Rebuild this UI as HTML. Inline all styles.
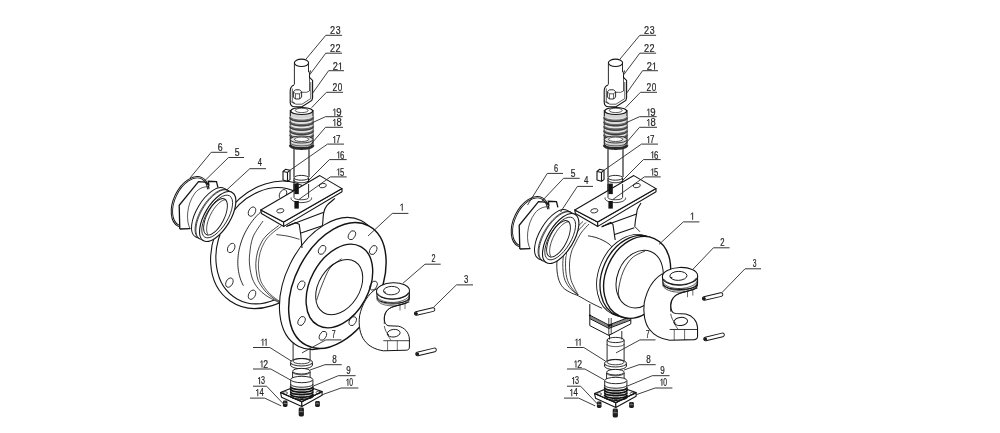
<!DOCTYPE html>
<html><head><meta charset="utf-8"><style>
html,body{margin:0;padding:0;background:#fff;}
svg{display:block;}
svg{will-change:transform;}
text{font-family:"Liberation Sans",sans-serif;}
</style></head><body>
<svg width="1000" height="433" viewBox="0 0 1000 433">
<rect width="1000" height="433" fill="#fff"/>
<path d="M293.1,330 L293.1,360 M310.1,330 L310.1,360" fill="none" stroke="#141414" stroke-width="0.9" />
<ellipse cx="301.5" cy="365" rx="11" ry="3.8" fill="white" stroke="#141414" stroke-width="0.9"/>
<path d="M290.5,362.5 L290.5,365 M312.5,362.5 L312.5,365" fill="none" stroke="#141414" stroke-width="0.8" />
<ellipse cx="301.5" cy="362.2" rx="11" ry="3.8" fill="white" stroke="#141414" stroke-width="0.9"/>
<ellipse cx="301.5" cy="361.2" rx="8.5" ry="2.6" fill="none" stroke="#141414" stroke-width="0.8"/>
<path d="M292.6,372 L292.6,378 M310.1,372 L310.1,378" fill="none" stroke="#141414" stroke-width="0.9" />
<path d="M310.20,372.00 L310.17,372.22 L310.09,372.44 L309.96,372.65 L309.77,372.87 L309.53,373.07 L309.24,373.27 L308.90,373.46 L308.52,373.65 L308.09,373.82 L307.62,373.98 L307.12,374.13 L306.57,374.27 L306.00,374.39 L305.40,374.49 L304.77,374.59 L304.12,374.66 L303.45,374.72 L302.78,374.77 L302.09,374.79 L301.40,374.80 L300.71,374.79 L300.02,374.77 L299.35,374.72 L298.68,374.66 L298.03,374.59 L297.40,374.49 L296.80,374.39 L296.23,374.27 L295.68,374.13 L295.18,373.98 L294.71,373.82 L294.28,373.65 L293.90,373.46 L293.56,373.27 L293.27,373.07 L293.03,372.87 L292.84,372.65 L292.71,372.44 L292.63,372.22 L292.60,372.00" fill="none" stroke="#141414" stroke-width="0.8" />
<ellipse cx="301.4" cy="371.2" rx="8.8" ry="2.8" fill="white" stroke="#141414" stroke-width="0.9"/>
<polygon points="280.5,392.5 301.8,401.8 301.8,406.4 281.5,397.2" fill="white" stroke="#141414" stroke-width="1.1" stroke-linejoin="round"/>
<polygon points="301.8,401.8 322.1,391.6 322.1,395.3 301.8,406.4" fill="white" stroke="#141414" stroke-width="1.1" stroke-linejoin="round"/>
<polygon points="280.5,392.5 300.9,384.2 322.1,391.6 301.8,401.8" fill="none" stroke="#141414" stroke-width="1.1" stroke-linejoin="round"/>
<ellipse cx="285.2" cy="393" rx="2.3" ry="1.3" fill="none" stroke="#141414" stroke-width="0.7"/>
<ellipse cx="318.4" cy="392.5" rx="2.3" ry="1.3" fill="none" stroke="#141414" stroke-width="0.7"/>
<ellipse cx="301.8" cy="399.8" rx="2.3" ry="1.3" fill="none" stroke="#141414" stroke-width="0.7"/>
<rect x="282.90" y="400.60" width="4.6" height="6.4" rx="1.4" fill="#1e1e1e"/>
<path d="M283.50,403.50 L286.90,403.50" stroke="#bbb" stroke-width="0.6"/>
<path d="M284.90,401.10 L284.90,402.80" stroke="#888" stroke-width="0.5"/>
<rect x="298.70" y="407.60" width="5.2" height="8.8" rx="1.4" fill="#1e1e1e"/>
<path d="M299.30,411.70 L303.30,411.70" stroke="#bbb" stroke-width="0.6"/>
<path d="M301.00,408.10 L301.00,411.00" stroke="#888" stroke-width="0.5"/>
<rect x="315.10" y="401.00" width="4.8" height="6" rx="1.4" fill="#1e1e1e"/>
<path d="M315.70,403.70 L319.30,403.70" stroke="#bbb" stroke-width="0.6"/>
<path d="M317.20,401.50 L317.20,403.00" stroke="#888" stroke-width="0.5"/>
<path d="M290.7,380 L290.7,394 L312.9,394 L312.9,380" fill="white" stroke="#141414" stroke-width="0.9" />
<ellipse cx="301.8" cy="379.5" rx="11.1" ry="3.2" fill="white" stroke="#141414" stroke-width="0.9"/>
<path d="M313.00,384.00 L312.97,384.25 L312.86,384.50 L312.69,384.75 L312.45,384.99 L312.15,385.22 L311.78,385.45 L311.35,385.67 L310.86,385.88 L310.32,386.08 L309.72,386.26 L309.07,386.43 L308.38,386.59 L307.65,386.73 L306.88,386.85 L306.09,386.96 L305.26,387.04 L304.41,387.11 L303.55,387.16 L302.68,387.19 L301.80,387.20 L300.92,387.19 L300.05,387.16 L299.19,387.11 L298.34,387.04 L297.51,386.96 L296.72,386.85 L295.95,386.73 L295.22,386.59 L294.53,386.43 L293.88,386.26 L293.28,386.08 L292.74,385.88 L292.25,385.67 L291.82,385.45 L291.45,385.22 L291.15,384.99 L290.91,384.75 L290.74,384.50 L290.63,384.25 L290.60,384.00" fill="none" stroke="#141414" stroke-width="1.0" />
<path d="M313.00,386.50 L312.97,386.75 L312.86,387.00 L312.69,387.25 L312.45,387.49 L312.15,387.72 L311.78,387.95 L311.35,388.17 L310.86,388.38 L310.32,388.58 L309.72,388.76 L309.07,388.93 L308.38,389.09 L307.65,389.23 L306.88,389.35 L306.09,389.46 L305.26,389.54 L304.41,389.61 L303.55,389.66 L302.68,389.69 L301.80,389.70 L300.92,389.69 L300.05,389.66 L299.19,389.61 L298.34,389.54 L297.51,389.46 L296.72,389.35 L295.95,389.23 L295.22,389.09 L294.53,388.93 L293.88,388.76 L293.28,388.58 L292.74,388.38 L292.25,388.17 L291.82,387.95 L291.45,387.72 L291.15,387.49 L290.91,387.25 L290.74,387.00 L290.63,386.75 L290.60,386.50" fill="none" stroke="#141414" stroke-width="1.8" />
<path d="M313.00,389.00 L312.97,389.25 L312.86,389.50 L312.69,389.75 L312.45,389.99 L312.15,390.22 L311.78,390.45 L311.35,390.67 L310.86,390.88 L310.32,391.08 L309.72,391.26 L309.07,391.43 L308.38,391.59 L307.65,391.73 L306.88,391.85 L306.09,391.96 L305.26,392.04 L304.41,392.11 L303.55,392.16 L302.68,392.19 L301.80,392.20 L300.92,392.19 L300.05,392.16 L299.19,392.11 L298.34,392.04 L297.51,391.96 L296.72,391.85 L295.95,391.73 L295.22,391.59 L294.53,391.43 L293.88,391.26 L293.28,391.08 L292.74,390.88 L292.25,390.67 L291.82,390.45 L291.45,390.22 L291.15,389.99 L290.91,389.75 L290.74,389.50 L290.63,389.25 L290.60,389.00" fill="none" stroke="#141414" stroke-width="1.8" />
<path d="M313.00,391.50 L312.97,391.75 L312.86,392.00 L312.69,392.25 L312.45,392.49 L312.15,392.72 L311.78,392.95 L311.35,393.17 L310.86,393.38 L310.32,393.58 L309.72,393.76 L309.07,393.93 L308.38,394.09 L307.65,394.23 L306.88,394.35 L306.09,394.46 L305.26,394.54 L304.41,394.61 L303.55,394.66 L302.68,394.69 L301.80,394.70 L300.92,394.69 L300.05,394.66 L299.19,394.61 L298.34,394.54 L297.51,394.46 L296.72,394.35 L295.95,394.23 L295.22,394.09 L294.53,393.93 L293.88,393.76 L293.28,393.58 L292.74,393.38 L292.25,393.17 L291.82,392.95 L291.45,392.72 L291.15,392.49 L290.91,392.25 L290.74,392.00 L290.63,391.75 L290.60,391.50" fill="none" stroke="#141414" stroke-width="1.6" />
<path d="M313.00,394.00 L312.97,394.25 L312.86,394.50 L312.69,394.75 L312.45,394.99 L312.15,395.22 L311.78,395.45 L311.35,395.67 L310.86,395.88 L310.32,396.08 L309.72,396.26 L309.07,396.43 L308.38,396.59 L307.65,396.73 L306.88,396.85 L306.09,396.96 L305.26,397.04 L304.41,397.11 L303.55,397.16 L302.68,397.19 L301.80,397.20 L300.92,397.19 L300.05,397.16 L299.19,397.11 L298.34,397.04 L297.51,396.96 L296.72,396.85 L295.95,396.73 L295.22,396.59 L294.53,396.43 L293.88,396.26 L293.28,396.08 L292.74,395.88 L292.25,395.67 L291.82,395.45 L291.45,395.22 L291.15,394.99 L290.91,394.75 L290.74,394.50 L290.63,394.25 L290.60,394.00" fill="none" stroke="#141414" stroke-width="1.8" />
<path d="M313.00,396.00 L312.97,396.25 L312.86,396.50 L312.69,396.75 L312.45,396.99 L312.15,397.22 L311.78,397.45 L311.35,397.67 L310.86,397.88 L310.32,398.08 L309.72,398.26 L309.07,398.43 L308.38,398.59 L307.65,398.73 L306.88,398.85 L306.09,398.96 L305.26,399.04 L304.41,399.11 L303.55,399.16 L302.68,399.19 L301.80,399.20 L300.92,399.19 L300.05,399.16 L299.19,399.11 L298.34,399.04 L297.51,398.96 L296.72,398.85 L295.95,398.73 L295.22,398.59 L294.53,398.43 L293.88,398.26 L293.28,398.08 L292.74,397.88 L292.25,397.67 L291.82,397.45 L291.45,397.22 L291.15,396.99 L290.91,396.75 L290.74,396.50 L290.63,396.25 L290.60,396.00" fill="none" stroke="#141414" stroke-width="1.4" />
<ellipse cx="268.7" cy="244.8" rx="52.7" ry="68.2" transform="rotate(34.4 268.7 244.8)" fill="white" stroke="#141414" stroke-width="1.1"/>
<ellipse cx="266.9" cy="245.7" rx="47.4" ry="61" transform="rotate(29.3 266.9 245.7)" fill="white" stroke="#141414" stroke-width="1.1"/>
<ellipse cx="252" cy="211.6" rx="3.3" ry="5" transform="rotate(29 252 211.6)" fill="none" stroke="#141414" stroke-width="0.8"/>
<ellipse cx="231.2" cy="248" rx="3.3" ry="5" transform="rotate(29 231.2 248)" fill="none" stroke="#141414" stroke-width="0.8"/>
<ellipse cx="229.4" cy="282.6" rx="3.3" ry="5" transform="rotate(29 229.4 282.6)" fill="none" stroke="#141414" stroke-width="0.8"/>
<ellipse cx="252" cy="294.7" rx="3.3" ry="5" transform="rotate(29 252 294.7)" fill="none" stroke="#141414" stroke-width="0.8"/>
<ellipse cx="283" cy="194.2" rx="3.3" ry="5" transform="rotate(29 283 194.2)" fill="none" stroke="#141414" stroke-width="0.8"/>
<path d="M243.37,285.68 L242.54,284.07 L241.78,282.41 L241.07,280.71 L240.44,278.96 L239.87,277.17 L239.37,275.34 L238.94,273.47 L238.57,271.57 L238.28,269.64 L238.05,267.68 L237.90,265.69 L237.82,263.69 L237.81,261.66 L237.87,259.62 L238.00,257.56 L238.20,255.50 L238.47,253.43 L238.81,251.35 L239.22,249.27 L239.70,247.20 L240.24,245.13 L240.86,243.07 L241.54,241.03 L242.28,238.99 L243.09,236.98 L243.96,234.99 L244.90,233.02 L245.89,231.08 L246.94,229.17 L248.05,227.29 L249.22,225.44 L250.44,223.64 L251.71,221.88 L253.03,220.16 L254.40,218.49 L255.81,216.86 L257.27,215.29 L258.77,213.77 L260.31,212.31 L261.88,210.91" fill="none" stroke="#141414" stroke-width="0.9" />
<path d="M263.00,221.00 C261.33,223.67 255.22,231.53 253.00,237.00 C250.78,242.47 250.25,248.97 249.70,253.80 C249.15,258.63 249.23,261.80 249.70,266.00 C250.17,270.20 251.08,275.25 252.50,279.00 C253.92,282.75 255.95,285.75 258.20,288.50 C260.45,291.25 262.97,293.38 266.00,295.50 C269.03,297.62 273.90,299.78 276.40,301.20 C278.90,302.62 280.23,303.53 281.00,304.00 L300,312 L330,280 L352,228 L350,196 L327,197 L300,204 L275,211 Z" fill="white" stroke="#141414" stroke-width="0" />
<path d="M263.00,221.00 C261.33,223.67 255.22,231.53 253.00,237.00 C250.78,242.47 250.25,248.97 249.70,253.80 C249.15,258.63 249.23,261.80 249.70,266.00 C250.17,270.20 251.08,275.25 252.50,279.00 C253.92,282.75 255.95,285.75 258.20,288.50 C260.45,291.25 262.97,293.38 266.00,295.50 C269.03,297.62 273.90,299.78 276.40,301.20 C278.90,302.62 280.23,303.53 281.00,304.00" fill="none" stroke="#141414" stroke-width="0.8" />
<path d="M278.80,225.50 C277.00,226.92 270.83,231.30 268.00,234.00 C265.17,236.70 263.55,238.70 261.80,241.70 C260.05,244.70 258.50,248.37 257.50,252.00 C256.50,255.63 255.97,260.00 255.80,263.50 C255.63,267.00 256.10,270.17 256.50,273.00 C256.90,275.83 257.28,278.17 258.20,280.50 C259.12,282.83 260.58,284.97 262.00,287.00 C263.42,289.03 264.87,290.87 266.70,292.70 C268.53,294.53 270.78,296.38 273.00,298.00 C275.22,299.62 278.83,301.67 280.00,302.40" fill="none" stroke="#141414" stroke-width="0.8" />
<path d="M281.40,226.10 C279.60,227.52 273.43,231.90 270.60,234.60 C267.77,237.30 266.15,239.30 264.40,242.30 C262.65,245.30 261.10,248.97 260.10,252.60 C259.10,256.23 258.57,260.60 258.40,264.10 C258.23,267.60 258.70,270.77 259.10,273.60 C259.50,276.43 259.88,278.77 260.80,281.10 C261.72,283.43 263.18,285.57 264.60,287.60 C266.02,289.63 267.47,291.47 269.30,293.30 C271.13,295.13 273.38,296.98 275.60,298.60 C277.82,300.22 281.43,302.27 282.60,303.00" fill="none" stroke="#141414" stroke-width="0.7" />
<path d="M276.40,234.60 C278.33,234.87 284.15,235.42 288.00,236.20 C291.85,236.98 297.58,238.78 299.50,239.30" fill="none" stroke="#141414" stroke-width="0.8" />
<ellipse cx="329.9" cy="283.5" rx="44.3" ry="70.2" transform="rotate(26.3 329.9 283.5)" fill="white" stroke="#141414" stroke-width="1.1"/>
<ellipse cx="337.4" cy="285.5" rx="42.2" ry="67.4" transform="rotate(27.6 337.4 285.5)" fill="white" stroke="#141414" stroke-width="1.45"/>
<ellipse cx="351.91" cy="235.22" rx="3.2" ry="4.8" transform="rotate(27.6 351.91 235.22)" fill="none" stroke="#141414" stroke-width="0.8"/>
<ellipse cx="373.24" cy="250.02" rx="3.2" ry="4.8" transform="rotate(27.6 373.24 250.02)" fill="none" stroke="#141414" stroke-width="0.8"/>
<ellipse cx="373.57" cy="285.61" rx="3.2" ry="4.8" transform="rotate(27.6 373.57 285.61)" fill="none" stroke="#141414" stroke-width="0.8"/>
<ellipse cx="352.72" cy="321.13" rx="3.2" ry="4.8" transform="rotate(27.6 352.72 321.13)" fill="none" stroke="#141414" stroke-width="0.8"/>
<ellipse cx="322.89" cy="335.78" rx="3.2" ry="4.8" transform="rotate(27.6 322.89 335.78)" fill="none" stroke="#141414" stroke-width="0.8"/>
<ellipse cx="301.56" cy="320.98" rx="3.2" ry="4.8" transform="rotate(27.6 301.56 320.98)" fill="none" stroke="#141414" stroke-width="0.8"/>
<ellipse cx="301.23" cy="285.39" rx="3.2" ry="4.8" transform="rotate(27.6 301.23 285.39)" fill="none" stroke="#141414" stroke-width="0.8"/>
<ellipse cx="322.08" cy="249.87" rx="3.2" ry="4.8" transform="rotate(27.6 322.08 249.87)" fill="none" stroke="#141414" stroke-width="0.8"/>
<ellipse cx="339.4" cy="286" rx="29.1" ry="44.8" transform="rotate(28.4 339.4 286)" fill="none" stroke="#141414" stroke-width="1.4"/>
<ellipse cx="339.2" cy="287.1" rx="20.4" ry="30" transform="rotate(32.3 339.2 287.1)" fill="none" stroke="#141414" stroke-width="1.0"/>
<path d="M341.60,258.70 C339.67,260.25 333.27,263.62 330.00,268.00 C326.73,272.38 324.23,279.62 322.00,285.00 C319.77,290.38 317.50,297.75 316.60,300.30" fill="none" stroke="#141414" stroke-width="0.8" />
<path d="M335.00,198.30 C333.63,199.52 328.68,203.17 326.80,205.60 C324.92,208.03 324.40,209.78 323.70,212.90 C323.00,216.02 322.95,222.13 322.60,224.30 C322.25,226.47 321.77,225.63 321.60,225.90" fill="none" stroke="#141414" stroke-width="1.1" />
<path d="M287.3,225.9 L295.6,222.7 L299.2,224.3 L300.8,235 L302,248" fill="none" stroke="#141414" stroke-width="1.1" />
<path d="M286.2,226.4 L323.7,212.3" fill="none" stroke="#141414" stroke-width="1.1" />
<path d="M321.6,225.9 L301,233" fill="none" stroke="#141414" stroke-width="1.1" />
<ellipse cx="190.2" cy="202" rx="16.5" ry="27.1" transform="rotate(26 190.2 202)" fill="none" stroke="#141414" stroke-width="1.0"/>
<ellipse cx="190.2" cy="202" rx="15.1" ry="25.7" transform="rotate(26 190.2 202)" fill="none" stroke="#141414" stroke-width="0.9"/>
<path d="M179.8,229 L179.2,205.3 L190,193 L204,189.5 L214,189 L220,192 L226,200 L226,236 L190.2,228.6 Z" fill="white" stroke="#141414" stroke-width="0" />
<path d="M190.3,229 C186,222 186,205 195,193 C199,188 205,186 209.5,187" fill="none" stroke="#141414" stroke-width="0.7" />
<path d="M179.8,229 L179.2,205.3 L198.5,181.7 L205.3,182.2 L208.8,184.6 L208.3,181.3 L216.5,181.7 L217.9,187.3" fill="none" stroke="#141414" stroke-width="1.3" />
<path d="M179.8,229 L190.2,228.6" fill="none" stroke="#141414" stroke-width="1.3" />
<ellipse cx="209.7" cy="212.5" rx="12.8" ry="28.1" transform="rotate(31.1 209.7 212.5)" fill="white" stroke="#141414" stroke-width="1.0"/>
<path d="M224.21,188.44 L232.21,192.44 L203.19,240.56 L195.19,236.56 Z" fill="white" stroke="#141414" stroke-width="0" />
<path d="M224.21,188.44 L232.21,192.44 M203.19,240.56 L195.19,236.56" fill="none" stroke="#141414" stroke-width="0.9" />
<path d="M198.79,238.36 L197.97,237.77 L197.25,237.03 L196.63,236.15 L196.11,235.14 L195.70,234.00 L195.39,232.74 L195.20,231.36 L195.12,229.88 L195.14,228.30 L195.29,226.64 L195.54,224.90 L195.90,223.09 L196.37,221.23 L196.94,219.33 L197.62,217.40 L198.39,215.45 L199.25,213.49 L200.20,211.53 L201.23,209.60 L202.34,207.69 L203.51,205.82 L204.75,204.01 L206.03,202.25 L207.36,200.58 L208.73,198.98 L210.12,197.49 L211.54,196.09 L212.96,194.81 L214.39,193.65 L215.81,192.61 L217.22,191.71 L218.60,190.95 L219.95,190.33 L221.26,189.86 L222.52,189.54 L223.72,189.37 L224.85,189.36 L225.92,189.50 L226.91,189.79 L227.81,190.24" fill="none" stroke="#141414" stroke-width="0.8" />
<path d="M199.59,238.76 L198.77,238.17 L198.05,237.43 L197.43,236.55 L196.91,235.54 L196.50,234.40 L196.19,233.14 L196.00,231.76 L195.92,230.28 L195.94,228.70 L196.09,227.04 L196.34,225.30 L196.70,223.49 L197.17,221.63 L197.74,219.73 L198.42,217.80 L199.19,215.85 L200.05,213.89 L201.00,211.93 L202.03,210.00 L203.14,208.09 L204.31,206.22 L205.55,204.41 L206.83,202.65 L208.16,200.98 L209.53,199.38 L210.92,197.89 L212.34,196.49 L213.76,195.21 L215.19,194.05 L216.61,193.01 L218.02,192.11 L219.40,191.35 L220.75,190.73 L222.06,190.26 L223.32,189.94 L224.52,189.77 L225.65,189.76 L226.72,189.90 L227.71,190.19 L228.61,190.64" fill="none" stroke="#141414" stroke-width="0.8" />
<ellipse cx="217.7" cy="216.5" rx="12.8" ry="28.1" transform="rotate(31.1 217.7 216.5)" fill="white" stroke="#141414" stroke-width="1.1"/>
<ellipse cx="217.2" cy="216.5" rx="10.600000000000001" ry="24.1" transform="rotate(31.1 217.2 216.5)" fill="none" stroke="#141414" stroke-width="0.8"/>
<ellipse cx="215.5" cy="216.8" rx="8.6" ry="20" transform="rotate(27 215.5 216.8)" fill="none" stroke="#141414" stroke-width="0.9"/>
<path d="M208.23,234.87 L207.84,234.35 L207.50,233.74 L207.21,233.06 L206.98,232.31 L206.81,231.48 L206.69,230.59 L206.63,229.64 L206.63,228.63 L206.68,227.57 L206.79,226.46 L206.96,225.32 L207.19,224.13 L207.47,222.92 L207.81,221.68 L208.19,220.43 L208.63,219.16 L209.12,217.89 L209.65,216.61 L210.22,215.35 L210.84,214.10 L211.49,212.86 L212.18,211.65 L212.89,210.48 L213.64,209.34 L214.40,208.24 L215.19,207.19 L216.00,206.19 L216.81,205.25 L217.64,204.37 L218.47,203.55 L219.30,202.81 L220.12,202.14 L220.94,201.55 L221.74,201.04 L222.53,200.62 L223.30,200.27 L224.05,200.01 L224.77,199.85 L225.46,199.76 L226.11,199.77" fill="none" stroke="#141414" stroke-width="0.8" />
<path d="M294,146 L294,177 M309,146 L309,177" fill="none" stroke="#141414" stroke-width="1.1" />
<path d="M294,178 L294,200 M308.6,178 L308.6,200" fill="none" stroke="#141414" stroke-width="1.1" />
<ellipse cx="301.3" cy="177.8" rx="7.3" ry="2.4" fill="white" stroke="#141414" stroke-width="0.9"/>
<path d="M308.60,180.30 L308.58,180.49 L308.51,180.68 L308.40,180.86 L308.24,181.04 L308.04,181.22 L307.80,181.39 L307.52,181.55 L307.21,181.71 L306.85,181.86 L306.46,182.00 L306.04,182.12 L305.59,182.24 L305.11,182.35 L304.61,182.44 L304.09,182.52 L303.56,182.58 L303.00,182.63 L302.44,182.67 L301.87,182.69 L301.30,182.70 L300.73,182.69 L300.16,182.67 L299.60,182.63 L299.04,182.58 L298.51,182.52 L297.99,182.44 L297.49,182.35 L297.01,182.24 L296.56,182.12 L296.14,182.00 L295.75,181.86 L295.39,181.71 L295.08,181.55 L294.80,181.39 L294.56,181.22 L294.36,181.04 L294.20,180.86 L294.09,180.68 L294.02,180.49 L294.00,180.30" fill="none" stroke="#141414" stroke-width="1.0" />
<polygon points="283,171.5 285.5,169.3 290,170.2 290,179.6 287.5,181.2 283,180" fill="white" stroke="#141414" stroke-width="1.1" stroke-linejoin="round"/>
<path d="M283,171.5 L287.5,172.5 L290,170.2 M287.5,172.5 L287.5,181.2" fill="none" stroke="#141414" stroke-width="1.1" />
<polygon points="290.3,110 313,110 313,147 290.3,147" fill="#d4d4d4" stroke="#141414" stroke-width="0" stroke-linejoin="round"/>
<path d="M290.3,110 L290.3,146 M313,110 L313,146" fill="none" stroke="#141414" stroke-width="1.1" />
<path d="M312.95,117.20 L312.92,117.47 L312.81,117.73 L312.64,117.99 L312.39,118.25 L312.09,118.50 L311.71,118.74 L311.28,118.98 L310.78,119.20 L310.23,119.41 L309.63,119.60 L308.97,119.79 L308.27,119.95 L307.53,120.10 L306.75,120.23 L305.94,120.34 L305.11,120.43 L304.25,120.51 L303.38,120.56 L302.49,120.59 L301.60,120.60 L300.71,120.59 L299.82,120.56 L298.95,120.51 L298.09,120.43 L297.26,120.34 L296.45,120.23 L295.67,120.10 L294.93,119.95 L294.23,119.79 L293.57,119.60 L292.97,119.41 L292.42,119.20 L291.92,118.98 L291.49,118.74 L291.11,118.50 L290.81,118.25 L290.56,117.99 L290.39,117.73 L290.28,117.47 L290.25,117.20" fill="none" stroke="#6a6a6a" stroke-width="2.6" />
<path d="M312.95,118.10 L312.92,118.37 L312.81,118.63 L312.64,118.89 L312.39,119.15 L312.09,119.40 L311.71,119.64 L311.28,119.88 L310.78,120.10 L310.23,120.31 L309.63,120.50 L308.97,120.69 L308.27,120.85 L307.53,121.00 L306.75,121.13 L305.94,121.24 L305.11,121.33 L304.25,121.41 L303.38,121.46 L302.49,121.49 L301.60,121.50 L300.71,121.49 L299.82,121.46 L298.95,121.41 L298.09,121.33 L297.26,121.24 L296.45,121.13 L295.67,121.00 L294.93,120.85 L294.23,120.69 L293.57,120.50 L292.97,120.31 L292.42,120.10 L291.92,119.88 L291.49,119.64 L291.11,119.40 L290.81,119.15 L290.56,118.89 L290.39,118.63 L290.28,118.37 L290.25,118.10" fill="none" stroke="#222" stroke-width="0.9" />
<path d="M312.78,116.19 L312.61,116.42 L312.39,116.65 L312.12,116.87 L311.80,117.09 L311.43,117.30 L311.01,117.50 L310.54,117.69 L310.03,117.88 L309.48,118.05 L308.90,118.20 L308.27,118.35 L307.61,118.48 L306.93,118.60 L306.22,118.71 L305.48,118.79 L304.73,118.87 L303.96,118.93 L303.18,118.97 L302.39,118.99 L301.60,119.00 L300.81,118.99 L300.02,118.97 L299.24,118.93 L298.47,118.87 L297.72,118.79 L296.98,118.71 L296.27,118.60 L295.59,118.48 L294.93,118.35 L294.30,118.20 L293.72,118.05 L293.17,117.88 L292.66,117.69 L292.19,117.50 L291.77,117.30 L291.40,117.09 L291.08,116.87 L290.81,116.65 L290.59,116.42 L290.42,116.19" fill="none" stroke="#f4f4f4" stroke-width="0.9" />
<path d="M312.95,121.60 L312.92,121.87 L312.81,122.13 L312.64,122.39 L312.39,122.65 L312.09,122.90 L311.71,123.14 L311.28,123.38 L310.78,123.60 L310.23,123.81 L309.63,124.00 L308.97,124.19 L308.27,124.35 L307.53,124.50 L306.75,124.63 L305.94,124.74 L305.11,124.83 L304.25,124.91 L303.38,124.96 L302.49,124.99 L301.60,125.00 L300.71,124.99 L299.82,124.96 L298.95,124.91 L298.09,124.83 L297.26,124.74 L296.45,124.63 L295.67,124.50 L294.93,124.35 L294.23,124.19 L293.57,124.00 L292.97,123.81 L292.42,123.60 L291.92,123.38 L291.49,123.14 L291.11,122.90 L290.81,122.65 L290.56,122.39 L290.39,122.13 L290.28,121.87 L290.25,121.60" fill="none" stroke="#6a6a6a" stroke-width="2.6" />
<path d="M312.95,122.50 L312.92,122.77 L312.81,123.03 L312.64,123.29 L312.39,123.55 L312.09,123.80 L311.71,124.04 L311.28,124.28 L310.78,124.50 L310.23,124.71 L309.63,124.90 L308.97,125.09 L308.27,125.25 L307.53,125.40 L306.75,125.53 L305.94,125.64 L305.11,125.73 L304.25,125.81 L303.38,125.86 L302.49,125.89 L301.60,125.90 L300.71,125.89 L299.82,125.86 L298.95,125.81 L298.09,125.73 L297.26,125.64 L296.45,125.53 L295.67,125.40 L294.93,125.25 L294.23,125.09 L293.57,124.90 L292.97,124.71 L292.42,124.50 L291.92,124.28 L291.49,124.04 L291.11,123.80 L290.81,123.55 L290.56,123.29 L290.39,123.03 L290.28,122.77 L290.25,122.50" fill="none" stroke="#222" stroke-width="0.9" />
<path d="M312.78,120.59 L312.61,120.82 L312.39,121.05 L312.12,121.27 L311.80,121.49 L311.43,121.70 L311.01,121.90 L310.54,122.09 L310.03,122.28 L309.48,122.45 L308.90,122.60 L308.27,122.75 L307.61,122.88 L306.93,123.00 L306.22,123.11 L305.48,123.19 L304.73,123.27 L303.96,123.33 L303.18,123.37 L302.39,123.39 L301.60,123.40 L300.81,123.39 L300.02,123.37 L299.24,123.33 L298.47,123.27 L297.72,123.19 L296.98,123.11 L296.27,123.00 L295.59,122.88 L294.93,122.75 L294.30,122.60 L293.72,122.45 L293.17,122.28 L292.66,122.09 L292.19,121.90 L291.77,121.70 L291.40,121.49 L291.08,121.27 L290.81,121.05 L290.59,120.82 L290.42,120.59" fill="none" stroke="#f4f4f4" stroke-width="0.9" />
<path d="M312.95,126.00 L312.92,126.27 L312.81,126.53 L312.64,126.79 L312.39,127.05 L312.09,127.30 L311.71,127.54 L311.28,127.78 L310.78,128.00 L310.23,128.21 L309.63,128.40 L308.97,128.59 L308.27,128.75 L307.53,128.90 L306.75,129.03 L305.94,129.14 L305.11,129.23 L304.25,129.31 L303.38,129.36 L302.49,129.39 L301.60,129.40 L300.71,129.39 L299.82,129.36 L298.95,129.31 L298.09,129.23 L297.26,129.14 L296.45,129.03 L295.67,128.90 L294.93,128.75 L294.23,128.59 L293.57,128.40 L292.97,128.21 L292.42,128.00 L291.92,127.78 L291.49,127.54 L291.11,127.30 L290.81,127.05 L290.56,126.79 L290.39,126.53 L290.28,126.27 L290.25,126.00" fill="none" stroke="#6a6a6a" stroke-width="2.6" />
<path d="M312.95,126.90 L312.92,127.17 L312.81,127.43 L312.64,127.69 L312.39,127.95 L312.09,128.20 L311.71,128.44 L311.28,128.68 L310.78,128.90 L310.23,129.11 L309.63,129.30 L308.97,129.49 L308.27,129.65 L307.53,129.80 L306.75,129.93 L305.94,130.04 L305.11,130.13 L304.25,130.21 L303.38,130.26 L302.49,130.29 L301.60,130.30 L300.71,130.29 L299.82,130.26 L298.95,130.21 L298.09,130.13 L297.26,130.04 L296.45,129.93 L295.67,129.80 L294.93,129.65 L294.23,129.49 L293.57,129.30 L292.97,129.11 L292.42,128.90 L291.92,128.68 L291.49,128.44 L291.11,128.20 L290.81,127.95 L290.56,127.69 L290.39,127.43 L290.28,127.17 L290.25,126.90" fill="none" stroke="#222" stroke-width="0.9" />
<path d="M312.78,124.99 L312.61,125.22 L312.39,125.45 L312.12,125.67 L311.80,125.89 L311.43,126.10 L311.01,126.30 L310.54,126.49 L310.03,126.68 L309.48,126.85 L308.90,127.00 L308.27,127.15 L307.61,127.28 L306.93,127.40 L306.22,127.51 L305.48,127.59 L304.73,127.67 L303.96,127.73 L303.18,127.77 L302.39,127.79 L301.60,127.80 L300.81,127.79 L300.02,127.77 L299.24,127.73 L298.47,127.67 L297.72,127.59 L296.98,127.51 L296.27,127.40 L295.59,127.28 L294.93,127.15 L294.30,127.00 L293.72,126.85 L293.17,126.68 L292.66,126.49 L292.19,126.30 L291.77,126.10 L291.40,125.89 L291.08,125.67 L290.81,125.45 L290.59,125.22 L290.42,124.99" fill="none" stroke="#f4f4f4" stroke-width="0.9" />
<path d="M312.95,130.40 L312.92,130.67 L312.81,130.93 L312.64,131.19 L312.39,131.45 L312.09,131.70 L311.71,131.94 L311.28,132.18 L310.78,132.40 L310.23,132.61 L309.63,132.80 L308.97,132.99 L308.27,133.15 L307.53,133.30 L306.75,133.43 L305.94,133.54 L305.11,133.63 L304.25,133.71 L303.38,133.76 L302.49,133.79 L301.60,133.80 L300.71,133.79 L299.82,133.76 L298.95,133.71 L298.09,133.63 L297.26,133.54 L296.45,133.43 L295.67,133.30 L294.93,133.15 L294.23,132.99 L293.57,132.80 L292.97,132.61 L292.42,132.40 L291.92,132.18 L291.49,131.94 L291.11,131.70 L290.81,131.45 L290.56,131.19 L290.39,130.93 L290.28,130.67 L290.25,130.40" fill="none" stroke="#6a6a6a" stroke-width="2.6" />
<path d="M312.95,131.30 L312.92,131.57 L312.81,131.83 L312.64,132.09 L312.39,132.35 L312.09,132.60 L311.71,132.84 L311.28,133.08 L310.78,133.30 L310.23,133.51 L309.63,133.70 L308.97,133.89 L308.27,134.05 L307.53,134.20 L306.75,134.33 L305.94,134.44 L305.11,134.53 L304.25,134.61 L303.38,134.66 L302.49,134.69 L301.60,134.70 L300.71,134.69 L299.82,134.66 L298.95,134.61 L298.09,134.53 L297.26,134.44 L296.45,134.33 L295.67,134.20 L294.93,134.05 L294.23,133.89 L293.57,133.70 L292.97,133.51 L292.42,133.30 L291.92,133.08 L291.49,132.84 L291.11,132.60 L290.81,132.35 L290.56,132.09 L290.39,131.83 L290.28,131.57 L290.25,131.30" fill="none" stroke="#222" stroke-width="0.9" />
<path d="M312.78,129.39 L312.61,129.62 L312.39,129.85 L312.12,130.07 L311.80,130.29 L311.43,130.50 L311.01,130.70 L310.54,130.89 L310.03,131.08 L309.48,131.25 L308.90,131.40 L308.27,131.55 L307.61,131.68 L306.93,131.80 L306.22,131.91 L305.48,131.99 L304.73,132.07 L303.96,132.13 L303.18,132.17 L302.39,132.19 L301.60,132.20 L300.81,132.19 L300.02,132.17 L299.24,132.13 L298.47,132.07 L297.72,131.99 L296.98,131.91 L296.27,131.80 L295.59,131.68 L294.93,131.55 L294.30,131.40 L293.72,131.25 L293.17,131.08 L292.66,130.89 L292.19,130.70 L291.77,130.50 L291.40,130.29 L291.08,130.07 L290.81,129.85 L290.59,129.62 L290.42,129.39" fill="none" stroke="#f4f4f4" stroke-width="0.9" />
<path d="M312.95,134.60 L312.92,134.87 L312.81,135.13 L312.64,135.39 L312.39,135.65 L312.09,135.90 L311.71,136.14 L311.28,136.38 L310.78,136.60 L310.23,136.81 L309.63,137.00 L308.97,137.19 L308.27,137.35 L307.53,137.50 L306.75,137.63 L305.94,137.74 L305.11,137.83 L304.25,137.91 L303.38,137.96 L302.49,137.99 L301.60,138.00 L300.71,137.99 L299.82,137.96 L298.95,137.91 L298.09,137.83 L297.26,137.74 L296.45,137.63 L295.67,137.50 L294.93,137.35 L294.23,137.19 L293.57,137.00 L292.97,136.81 L292.42,136.60 L291.92,136.38 L291.49,136.14 L291.11,135.90 L290.81,135.65 L290.56,135.39 L290.39,135.13 L290.28,134.87 L290.25,134.60" fill="none" stroke="#6a6a6a" stroke-width="2.6" />
<path d="M312.95,135.50 L312.92,135.77 L312.81,136.03 L312.64,136.29 L312.39,136.55 L312.09,136.80 L311.71,137.04 L311.28,137.28 L310.78,137.50 L310.23,137.71 L309.63,137.90 L308.97,138.09 L308.27,138.25 L307.53,138.40 L306.75,138.53 L305.94,138.64 L305.11,138.73 L304.25,138.81 L303.38,138.86 L302.49,138.89 L301.60,138.90 L300.71,138.89 L299.82,138.86 L298.95,138.81 L298.09,138.73 L297.26,138.64 L296.45,138.53 L295.67,138.40 L294.93,138.25 L294.23,138.09 L293.57,137.90 L292.97,137.71 L292.42,137.50 L291.92,137.28 L291.49,137.04 L291.11,136.80 L290.81,136.55 L290.56,136.29 L290.39,136.03 L290.28,135.77 L290.25,135.50" fill="none" stroke="#222" stroke-width="0.9" />
<path d="M312.78,133.59 L312.61,133.82 L312.39,134.05 L312.12,134.27 L311.80,134.49 L311.43,134.70 L311.01,134.90 L310.54,135.09 L310.03,135.28 L309.48,135.45 L308.90,135.60 L308.27,135.75 L307.61,135.88 L306.93,136.00 L306.22,136.11 L305.48,136.19 L304.73,136.27 L303.96,136.33 L303.18,136.37 L302.39,136.39 L301.60,136.40 L300.81,136.39 L300.02,136.37 L299.24,136.33 L298.47,136.27 L297.72,136.19 L296.98,136.11 L296.27,136.00 L295.59,135.88 L294.93,135.75 L294.30,135.60 L293.72,135.45 L293.17,135.28 L292.66,135.09 L292.19,134.90 L291.77,134.70 L291.40,134.49 L291.08,134.27 L290.81,134.05 L290.59,133.82 L290.42,133.59" fill="none" stroke="#f4f4f4" stroke-width="0.9" />
<ellipse cx="301.6" cy="139.5" rx="11.35" ry="3.5" fill="#dedede" stroke="#141414" stroke-width="0.8"/>
<ellipse cx="301.6" cy="139.3" rx="7.2" ry="2.2" fill="#fafafa" stroke="#141414" stroke-width="0.7"/>
<path d="M312.95,145.20 L312.92,145.46 L312.81,145.72 L312.64,145.97 L312.39,146.22 L312.09,146.46 L311.71,146.70 L311.28,146.92 L310.78,147.14 L310.23,147.34 L309.63,147.53 L308.97,147.71 L308.27,147.87 L307.53,148.01 L306.75,148.14 L305.94,148.25 L305.11,148.34 L304.25,148.41 L303.38,148.46 L302.49,148.49 L301.60,148.50 L300.71,148.49 L299.82,148.46 L298.95,148.41 L298.09,148.34 L297.26,148.25 L296.45,148.14 L295.67,148.01 L294.93,147.87 L294.23,147.71 L293.57,147.53 L292.97,147.34 L292.42,147.14 L291.92,146.92 L291.49,146.70 L291.11,146.46 L290.81,146.22 L290.56,145.97 L290.39,145.72 L290.28,145.46 L290.25,145.20" fill="none" stroke="#2a2a2a" stroke-width="2.8" />
<path d="M312.95,142.50 L312.92,142.77 L312.81,143.03 L312.64,143.29 L312.39,143.55 L312.09,143.80 L311.71,144.04 L311.28,144.28 L310.78,144.50 L310.23,144.71 L309.63,144.90 L308.97,145.09 L308.27,145.25 L307.53,145.40 L306.75,145.53 L305.94,145.64 L305.11,145.73 L304.25,145.81 L303.38,145.86 L302.49,145.89 L301.60,145.90 L300.71,145.89 L299.82,145.86 L298.95,145.81 L298.09,145.73 L297.26,145.64 L296.45,145.53 L295.67,145.40 L294.93,145.25 L294.23,145.09 L293.57,144.90 L292.97,144.71 L292.42,144.50 L291.92,144.28 L291.49,144.04 L291.11,143.80 L290.81,143.55 L290.56,143.29 L290.39,143.03 L290.28,142.77 L290.25,142.50" fill="none" stroke="#444" stroke-width="1.0" />
<ellipse cx="301.7" cy="111" rx="10.9" ry="3.5" fill="white" stroke="#141414" stroke-width="1.1"/>
<ellipse cx="301.7" cy="110.4" rx="6.5" ry="2.2" fill="none" stroke="#141414" stroke-width="0.7"/>
<path d="M294.4,63 L294.4,92 M308.5,63 L308.5,92" fill="none" stroke="#141414" stroke-width="0.9" />
<ellipse cx="301.5" cy="62.8" rx="7.1" ry="3.7" fill="white" stroke="#141414" stroke-width="1.1"/>
<path d="M294,85 Q290.2,86.5 290.2,91 L290.2,102.5 Q290.5,106.5 294.5,106.8 L302,106.8 L311.8,100.5 L312.6,98 L312.6,80.4 L309.5,77.5 Q309,73 310.5,70.5" fill="white" stroke="#141414" stroke-width="1.1" />
<path d="M292.3,88.5 L292.3,100.5 Q292.5,103.8 296,104.2 L302,104.2 L310.8,98.5 L310.8,82 M309.5,78 L309.5,91 Q306,93 304.8,92.3 L298,92.3 M290.2,100.5 Q291,103 295,103.2" fill="none" stroke="#141414" stroke-width="0.7" />
<polygon points="293.4,91.8 295.4,89.8 299.6,89.8 301.6,91.8 301.6,97 299.6,99 295.4,99 293.4,97" fill="white" stroke="#141414" stroke-width="0.9" stroke-linejoin="round"/>
<path d="M293.4,91.8 L295.4,93.8 L299.6,93.8 L301.6,91.8 M295.4,93.8 L295.4,99 M299.6,93.8 L299.6,99" fill="none" stroke="#141414" stroke-width="0.7" />
<polygon points="260.8,209.9 283.6,222 283.8,226.4 261.4,213.6" fill="white" stroke="#141414" stroke-width="1.1" stroke-linejoin="round"/>
<polygon points="283.6,222 342,188.6 342,191.8 283.8,226.4" fill="white" stroke="#141414" stroke-width="1.1" stroke-linejoin="round"/>
<polygon points="260.8,209.9 319.8,175.6 342,188.6 283.6,222" fill="white" stroke="#141414" stroke-width="1.1" stroke-linejoin="round"/>
<ellipse cx="280.3" cy="210.8" rx="3.6" ry="2.1" transform="rotate(-10 280.3 210.8)" fill="none" stroke="#141414" stroke-width="0.8"/>
<ellipse cx="322.8" cy="185.6" rx="3.6" ry="2.1" transform="rotate(-10 322.8 185.6)" fill="none" stroke="#141414" stroke-width="0.8"/>
<path d="M294,184 L294,197.5 M308.6,184 L308.6,197.5" fill="none" stroke="#141414" stroke-width="0.9" />
<path d="M311.44,197.55 L311.56,197.93 L311.60,198.30 L311.56,198.67 L311.44,199.05 L311.25,199.41 L310.98,199.77 L310.63,200.12 L310.22,200.45 L309.74,200.77 L309.19,201.06 L308.58,201.34 L307.92,201.59 L307.21,201.82 L306.45,202.02 L305.65,202.20 L304.82,202.34 L303.97,202.45 L303.09,202.53 L302.20,202.58 L301.30,202.60 L300.40,202.58 L299.51,202.53 L298.63,202.45 L297.78,202.34 L296.95,202.20 L296.15,202.02 L295.39,201.82 L294.68,201.59 L294.02,201.34 L293.41,201.06 L292.86,200.77 L292.38,200.45 L291.97,200.12 L291.62,199.77 L291.35,199.41 L291.16,199.05 L291.04,198.67 L291.00,198.30 L291.04,197.93 L291.16,197.55" fill="none" stroke="#141414" stroke-width="0.9" />
<path d="M294,197.5 C294,200.5 308.6,200.5 308.6,197.5" fill="none" stroke="#141414" stroke-width="0.8" />
<rect x="294.4" y="183.6" width="4.4" height="10.5" fill="#141414" stroke="none" stroke-width="0"/>
<rect x="294.4" y="201" width="4.4" height="7.6" fill="#141414" stroke="none" stroke-width="0"/>
<path d="M376,289 C368,294 362,304 359.6,315.7 C358.3,325 360,335 364.6,340.7 C368.5,346 375,349.5 383.3,350.8 L406.5,350.2 C408.5,350 409.4,349 409.4,347 L409.4,339 C409,332.5 404.5,327.5 398.5,326.2 L389,325.8 C386,325.5 384.3,323 384.3,318 C384.8,312 388,308.5 393,306.8 L405,303.5 C408,302.5 409.4,301 409.4,298 L409.4,291 Z" fill="white" stroke="#141414" stroke-width="1.0" />
<path d="M409.4,302 C404,304 396,305.5 391.6,307.4 C386.5,309.5 384.5,313 384.3,318 L384.3,324" fill="none" stroke="#141414" stroke-width="0.8" />
<path d="M400,304.8 L400,310.5 M405,303.5 L405,309" fill="none" stroke="#141414" stroke-width="0.6" />
<path d="M384.3,326 C385,330 386.5,333 389,335" fill="none" stroke="#141414" stroke-width="0.7" />
<path d="M383.3,340.7 L409.4,340.7" fill="none" stroke="#141414" stroke-width="0.8" />
<path d="M387.6,340.7 L387.6,350.6 M397.3,340.7 L397.3,350.6" fill="none" stroke="#141414" stroke-width="0.6" />
<ellipse cx="393.7" cy="333.2" rx="6.4" ry="3.8" transform="rotate(-6 393.7 333.2)" fill="none" stroke="#141414" stroke-width="0.9"/>
<path d="M387,334 L391,340.5" fill="none" stroke="#141414" stroke-width="0.6" />
<path d="M376.6,291.7 L377.3,299 C381,304.5 405,304.8 409,299 L409.4,290.9" fill="white" stroke="#141414" stroke-width="1.0" />
<path d="M409.27,294.77 L409.09,295.36 L408.82,295.94 L408.47,296.51 L408.04,297.06 L407.54,297.61 L406.96,298.13 L406.31,298.64 L405.59,299.12 L404.81,299.58 L403.97,300.01 L403.07,300.41 L402.12,300.78 L401.12,301.11 L400.08,301.41 L399.01,301.68 L397.90,301.90 L396.77,302.08 L395.62,302.23 L394.46,302.33 L393.29,302.40 L392.11,302.41 L390.95,302.39 L389.79,302.33 L388.65,302.22 L387.53,302.08 L386.44,301.89 L385.38,301.66 L384.36,301.40 L383.39,301.10 L382.46,300.76 L381.59,300.39 L380.78,299.99 L380.03,299.56 L379.35,299.10 L378.73,298.61 L378.19,298.11 L377.73,297.58 L377.34,297.04 L377.03,296.48 L376.81,295.91" fill="none" stroke="#141414" stroke-width="0.7" />
<path d="M409.27,296.57 L409.09,297.16 L408.82,297.74 L408.47,298.31 L408.04,298.86 L407.54,299.41 L406.96,299.93 L406.31,300.44 L405.59,300.92 L404.81,301.38 L403.97,301.81 L403.07,302.21 L402.12,302.58 L401.12,302.91 L400.08,303.21 L399.01,303.48 L397.90,303.70 L396.77,303.88 L395.62,304.03 L394.46,304.13 L393.29,304.20 L392.11,304.21 L390.95,304.19 L389.79,304.13 L388.65,304.02 L387.53,303.88 L386.44,303.69 L385.38,303.46 L384.36,303.20 L383.39,302.90 L382.46,302.56 L381.59,302.19 L380.78,301.79 L380.03,301.36 L379.35,300.90 L378.73,300.41 L378.19,299.91 L377.73,299.38 L377.34,298.84 L377.03,298.28 L376.81,297.71" fill="none" stroke="#141414" stroke-width="0.7" />
<path d="M409.27,298.17 L409.09,298.76 L408.82,299.34 L408.47,299.91 L408.04,300.46 L407.54,301.01 L406.96,301.53 L406.31,302.04 L405.59,302.52 L404.81,302.98 L403.97,303.41 L403.07,303.81 L402.12,304.18 L401.12,304.51 L400.08,304.81 L399.01,305.08 L397.90,305.30 L396.77,305.48 L395.62,305.63 L394.46,305.73 L393.29,305.80 L392.11,305.81 L390.95,305.79 L389.79,305.73 L388.65,305.62 L387.53,305.48 L386.44,305.29 L385.38,305.06 L384.36,304.80 L383.39,304.50 L382.46,304.16 L381.59,303.79 L380.78,303.39 L380.03,302.96 L379.35,302.50 L378.73,302.01 L378.19,301.51 L377.73,300.98 L377.34,300.44 L377.03,299.88 L376.81,299.31" fill="none" stroke="#141414" stroke-width="0.7" />
<ellipse cx="393" cy="291" rx="16.5" ry="8.3" transform="rotate(-2 393 291)" fill="white" stroke="#141414" stroke-width="1.0"/>
<path d="M407.91,292.74 L407.68,293.21 L407.38,293.67 L407.01,294.13 L406.58,294.57 L406.08,295.00 L405.52,295.42 L404.91,295.82 L404.24,296.20 L403.52,296.56 L402.75,296.90 L401.93,297.22 L401.08,297.51 L400.18,297.77 L399.26,298.01 L398.30,298.22 L397.32,298.40 L396.32,298.54 L395.30,298.66 L394.28,298.74 L393.24,298.80 L392.21,298.82 L391.18,298.80 L390.16,298.76 L389.15,298.68 L388.16,298.57 L387.19,298.43 L386.25,298.26 L385.34,298.06 L384.47,297.83 L383.63,297.57 L382.84,297.29 L382.09,296.98 L381.40,296.64 L380.76,296.28 L380.18,295.91 L379.65,295.51 L379.19,295.10 L378.79,294.67 L378.46,294.23 L378.19,293.77" fill="none" stroke="#141414" stroke-width="0.8" />
<ellipse cx="391.5" cy="290.6" rx="8" ry="4.2" transform="rotate(-2 391.5 290.6)" fill="none" stroke="#141414" stroke-width="0.9"/>
<path d="M383.6,291.8 L386,292.3" fill="none" stroke="#141414" stroke-width="0.8" />
<line x1="416.2" y1="313.5" x2="433" y2="309.6" stroke="#141414" stroke-width="4.6" stroke-linecap="round"/>
<line x1="416.2" y1="313.5" x2="433" y2="309.6" stroke="#fff" stroke-width="2.8" stroke-linecap="round"/>
<circle cx="416.2" cy="313.5" r="1.6" fill="#141414"/>
<line x1="417.5" y1="354" x2="434.5" y2="349.9" stroke="#141414" stroke-width="4.6" stroke-linecap="round"/>
<line x1="417.5" y1="354" x2="434.5" y2="349.9" stroke="#fff" stroke-width="2.8" stroke-linecap="round"/>
<circle cx="417.5" cy="354" r="1.6" fill="#141414"/>
<text transform="translate(330.04,34.00) scale(0.912,1)" font-size="10.0" fill="#262626" stroke="#262626" stroke-width="0.22">2</text>
<text transform="translate(335.72,34.00) scale(0.877,1)" font-size="10.0" fill="#262626" stroke="#262626" stroke-width="0.22">3</text>
<line x1="325.8" y1="35.3" x2="342.1" y2="35.3" stroke="#2a2a2a" stroke-width="0.95"/>
<line x1="325.8" y1="35.3" x2="305.5" y2="59.7" stroke="#2a2a2a" stroke-width="0.9"/>
<text transform="translate(330.04,51.60) scale(0.912,1)" font-size="10.0" fill="#262626" stroke="#262626" stroke-width="0.22">2</text>
<text transform="translate(335.59,51.60) scale(0.912,1)" font-size="10.0" fill="#262626" stroke="#262626" stroke-width="0.22">2</text>
<line x1="325.8" y1="53.2" x2="342.1" y2="53.2" stroke="#2a2a2a" stroke-width="0.95"/>
<line x1="325.8" y1="53.2" x2="309.5" y2="75" stroke="#2a2a2a" stroke-width="0.9"/>
<text transform="translate(332.74,69.70) scale(0.923,1)" font-size="10.0" fill="#262626" stroke="#262626" stroke-width="0.22">2</text>
<path d="M340.55,62.73 L340.55,69.70 M338.70,64.43 L340.55,62.73" stroke="#262626" stroke-width="0.95" fill="none"/>
<line x1="328.6" y1="70.7" x2="344" y2="70.7" stroke="#2a2a2a" stroke-width="0.95"/>
<line x1="328.6" y1="70.7" x2="312" y2="94" stroke="#2a2a2a" stroke-width="0.9"/>
<text transform="translate(332.47,91.20) scale(0.856,1)" font-size="10.0" fill="#262626" stroke="#262626" stroke-width="0.22">2</text>
<text transform="translate(337.79,91.20) scale(0.816,1)" font-size="10.0" fill="#262626" stroke="#262626" stroke-width="0.22">0</text>
<line x1="326.4" y1="92.3" x2="343" y2="92.3" stroke="#2a2a2a" stroke-width="0.95"/>
<line x1="326.4" y1="92.3" x2="311.6" y2="107.7" stroke="#2a2a2a" stroke-width="0.9"/>
<path d="M334.84,108.83 L334.84,115.80 M332.89,110.53 L334.84,108.83" stroke="#262626" stroke-width="0.95" fill="none"/>
<text transform="translate(336.33,115.80) scale(0.958,1)" font-size="10.0" fill="#262626" stroke="#262626" stroke-width="0.22">9</text>
<line x1="325.5" y1="116.7" x2="342.7" y2="116.7" stroke="#2a2a2a" stroke-width="0.95"/>
<line x1="325.5" y1="116.7" x2="312.7" y2="122.5" stroke="#2a2a2a" stroke-width="0.9"/>
<path d="M334.84,119.23 L334.84,126.20 M332.89,120.93 L334.84,119.23" stroke="#262626" stroke-width="0.95" fill="none"/>
<text transform="translate(336.38,126.20) scale(0.941,1)" font-size="10.0" fill="#262626" stroke="#262626" stroke-width="0.22">8</text>
<line x1="325.5" y1="127.3" x2="343" y2="127.3" stroke="#2a2a2a" stroke-width="0.95"/>
<line x1="325.5" y1="127.3" x2="309.8" y2="145.6" stroke="#2a2a2a" stroke-width="0.9"/>
<path d="M334.72,136.23 L334.72,143.20 M333.13,137.93 L334.72,136.23" stroke="#262626" stroke-width="0.95" fill="none"/>
<text transform="translate(335.99,143.20) scale(0.795,1)" font-size="10.0" fill="#262626" stroke="#262626" stroke-width="0.22">7</text>
<line x1="327.5" y1="144.1" x2="344" y2="144.1" stroke="#2a2a2a" stroke-width="0.95"/>
<line x1="327.5" y1="144.1" x2="288.9" y2="171" stroke="#2a2a2a" stroke-width="0.9"/>
<path d="M338.72,151.53 L338.72,158.50 M337.13,153.23 L338.72,151.53" stroke="#262626" stroke-width="0.95" fill="none"/>
<text transform="translate(339.99,158.50) scale(0.784,1)" font-size="10.0" fill="#262626" stroke="#262626" stroke-width="0.22">6</text>
<line x1="329.4" y1="159.6" x2="346.7" y2="159.6" stroke="#2a2a2a" stroke-width="0.95"/>
<line x1="329.4" y1="159.6" x2="307" y2="182" stroke="#2a2a2a" stroke-width="0.9"/>
<path d="M338.72,168.63 L338.72,175.60 M337.13,170.33 L338.72,168.63" stroke="#262626" stroke-width="0.95" fill="none"/>
<text transform="translate(340.09,175.60) scale(0.763,1)" font-size="10.0" fill="#262626" stroke="#262626" stroke-width="0.22">5</text>
<line x1="330.4" y1="176.9" x2="346.7" y2="176.9" stroke="#2a2a2a" stroke-width="0.95"/>
<line x1="330.4" y1="176.9" x2="298.6" y2="199.7" stroke="#2a2a2a" stroke-width="0.9"/>
<path d="M262.91,338.83 L262.91,345.80 M261.24,340.53 L262.91,338.83" stroke="#262626" stroke-width="0.95" fill="none"/>
<path d="M266.15,338.83 L266.15,345.80 M264.48,340.53 L266.15,338.83" stroke="#262626" stroke-width="0.95" fill="none"/>
<line x1="253" y1="347.5" x2="269.8" y2="347.5" stroke="#2a2a2a" stroke-width="0.95"/>
<line x1="269.8" y1="347.5" x2="291.6" y2="361.2" stroke="#2a2a2a" stroke-width="0.9"/>
<path d="M261.99,360.63 L261.99,367.60 M260.26,362.33 L261.99,360.63" stroke="#262626" stroke-width="0.95" fill="none"/>
<text transform="translate(263.34,367.60) scale(0.864,1)" font-size="10.0" fill="#262626" stroke="#262626" stroke-width="0.22">2</text>
<line x1="253" y1="369.0" x2="270.8" y2="369.0" stroke="#2a2a2a" stroke-width="0.95"/>
<line x1="270.8" y1="369.0" x2="290.5" y2="380" stroke="#2a2a2a" stroke-width="0.9"/>
<path d="M259.61,377.23 L259.61,384.20 M258.11,378.93 L259.61,377.23" stroke="#262626" stroke-width="0.95" fill="none"/>
<text transform="translate(260.94,384.20) scale(0.717,1)" font-size="10.0" fill="#262626" stroke="#262626" stroke-width="0.22">3</text>
<line x1="253" y1="386.2" x2="266.6" y2="386.2" stroke="#2a2a2a" stroke-width="0.95"/>
<line x1="266.6" y1="386.2" x2="283.3" y2="403.8" stroke="#2a2a2a" stroke-width="0.9"/>
<path d="M257.79,389.23 L257.79,396.20 M256.06,390.93 L257.79,389.23" stroke="#262626" stroke-width="0.95" fill="none"/>
<text transform="translate(259.39,396.20) scale(0.781,1)" font-size="10.0" fill="#262626" stroke="#262626" stroke-width="0.22">4</text>
<line x1="250" y1="398.1" x2="264.6" y2="398.1" stroke="#2a2a2a" stroke-width="0.95"/>
<line x1="264.6" y1="398.1" x2="281.2" y2="405.9" stroke="#2a2a2a" stroke-width="0.9"/>
<text transform="translate(331.64,338.20) scale(0.705,1)" font-size="10.0" fill="#262626" stroke="#262626" stroke-width="0.22">7</text>
<line x1="325.9" y1="339.9" x2="341.5" y2="339.9" stroke="#2a2a2a" stroke-width="0.95"/>
<line x1="325.9" y1="339.9" x2="302" y2="352.9" stroke="#2a2a2a" stroke-width="0.9"/>
<text transform="translate(332.15,363.20) scale(0.810,1)" font-size="10.0" fill="#262626" stroke="#262626" stroke-width="0.22">8</text>
<line x1="325" y1="364.7" x2="341.7" y2="364.7" stroke="#2a2a2a" stroke-width="0.95"/>
<line x1="325" y1="364.7" x2="310" y2="370" stroke="#2a2a2a" stroke-width="0.9"/>
<text transform="translate(346.32,373.70) scale(0.803,1)" font-size="10.0" fill="#262626" stroke="#262626" stroke-width="0.22">9</text>
<line x1="338.3" y1="375.7" x2="355.6" y2="375.7" stroke="#2a2a2a" stroke-width="0.95"/>
<line x1="338.3" y1="375.7" x2="313.5" y2="386" stroke="#2a2a2a" stroke-width="0.9"/>
<path d="M347.93,378.83 L347.93,385.80 M346.50,380.53 L347.93,378.83" stroke="#262626" stroke-width="0.95" fill="none"/>
<text transform="translate(349.21,385.80) scale(0.677,1)" font-size="10.0" fill="#262626" stroke="#262626" stroke-width="0.22">0</text>
<line x1="341.1" y1="388.0" x2="358.4" y2="388.0" stroke="#2a2a2a" stroke-width="0.95"/>
<line x1="341.1" y1="388.0" x2="322" y2="394.8" stroke="#2a2a2a" stroke-width="0.9"/>
<path d="M402.25,203.83 L402.25,210.80 M400.30,205.53 L402.25,203.83" stroke="#262626" stroke-width="0.95" fill="none"/>
<line x1="392.3" y1="213.4" x2="408.4" y2="213.4" stroke="#2a2a2a" stroke-width="0.95"/>
<line x1="392.3" y1="213.4" x2="368" y2="236" stroke="#2a2a2a" stroke-width="0.9"/>
<text transform="translate(431.44,262.00) scale(0.725,1)" font-size="10.0" fill="#262626" stroke="#262626" stroke-width="0.22">2</text>
<line x1="425" y1="264.2" x2="440.7" y2="264.2" stroke="#2a2a2a" stroke-width="0.95"/>
<line x1="425" y1="264.2" x2="402.8" y2="283.4" stroke="#2a2a2a" stroke-width="0.9"/>
<text transform="translate(464.00,282.70) scale(0.782,1)" font-size="10.0" fill="#262626" stroke="#262626" stroke-width="0.22">3</text>
<line x1="456.4" y1="284.9" x2="473" y2="284.9" stroke="#2a2a2a" stroke-width="0.95"/>
<line x1="456.4" y1="284.9" x2="433.3" y2="307.5" stroke="#2a2a2a" stroke-width="0.9"/>
<text transform="translate(257.73,165.80) scale(0.755,1)" font-size="10.0" fill="#262626" stroke="#262626" stroke-width="0.22">4</text>
<line x1="249.8" y1="168.7" x2="266" y2="168.7" stroke="#2a2a2a" stroke-width="0.95"/>
<line x1="249.8" y1="168.7" x2="226.2" y2="190.4" stroke="#2a2a2a" stroke-width="0.9"/>
<text transform="translate(234.85,156.00) scale(0.867,1)" font-size="10.0" fill="#262626" stroke="#262626" stroke-width="0.22">5</text>
<line x1="228.5" y1="157.5" x2="244.1" y2="157.5" stroke="#2a2a2a" stroke-width="0.95"/>
<line x1="228.5" y1="157.5" x2="203.9" y2="181.6" stroke="#2a2a2a" stroke-width="0.9"/>
<text transform="translate(217.66,150.80) scale(0.870,1)" font-size="10.0" fill="#262626" stroke="#262626" stroke-width="0.22">6</text>
<line x1="211.2" y1="152.3" x2="227.3" y2="152.3" stroke="#2a2a2a" stroke-width="0.95"/>
<line x1="211.2" y1="152.3" x2="190" y2="178" stroke="#2a2a2a" stroke-width="0.9"/>
<g transform="translate(314,1)">
<path d="M293.1,339 L293.1,360 M310.1,339 L310.1,360" fill="none" stroke="#141414" stroke-width="0.9" />
<ellipse cx="301.6" cy="339" rx="8.5" ry="2.6" fill="white" stroke="#141414" stroke-width="0.9"/>
<path d="M310.10,343.00 L310.07,343.20 L310.00,343.41 L309.87,343.61 L309.68,343.80 L309.45,343.99 L309.17,344.18 L308.85,344.36 L308.48,344.53 L308.06,344.69 L307.61,344.84 L307.12,344.98 L306.60,345.10 L306.04,345.22 L305.46,345.32 L304.85,345.40 L304.23,345.47 L303.58,345.53 L302.93,345.57 L302.27,345.59 L301.60,345.60 L300.93,345.59 L300.27,345.57 L299.62,345.53 L298.97,345.47 L298.35,345.40 L297.74,345.32 L297.16,345.22 L296.60,345.10 L296.08,344.98 L295.59,344.84 L295.14,344.69 L294.72,344.53 L294.35,344.36 L294.03,344.18 L293.75,343.99 L293.52,343.80 L293.33,343.61 L293.20,343.41 L293.13,343.20 L293.10,343.00" fill="none" stroke="#141414" stroke-width="0.8" />
<ellipse cx="301.5" cy="365" rx="11" ry="3.8" fill="white" stroke="#141414" stroke-width="0.9"/>
<path d="M290.5,362.5 L290.5,365 M312.5,362.5 L312.5,365" fill="none" stroke="#141414" stroke-width="0.8" />
<ellipse cx="301.5" cy="362.2" rx="11" ry="3.8" fill="white" stroke="#141414" stroke-width="0.9"/>
<ellipse cx="301.5" cy="361.2" rx="8.5" ry="2.6" fill="none" stroke="#141414" stroke-width="0.8"/>
<path d="M292.6,372 L292.6,378 M310.1,372 L310.1,378" fill="none" stroke="#141414" stroke-width="0.9" />
<path d="M310.20,372.00 L310.17,372.22 L310.09,372.44 L309.96,372.65 L309.77,372.87 L309.53,373.07 L309.24,373.27 L308.90,373.46 L308.52,373.65 L308.09,373.82 L307.62,373.98 L307.12,374.13 L306.57,374.27 L306.00,374.39 L305.40,374.49 L304.77,374.59 L304.12,374.66 L303.45,374.72 L302.78,374.77 L302.09,374.79 L301.40,374.80 L300.71,374.79 L300.02,374.77 L299.35,374.72 L298.68,374.66 L298.03,374.59 L297.40,374.49 L296.80,374.39 L296.23,374.27 L295.68,374.13 L295.18,373.98 L294.71,373.82 L294.28,373.65 L293.90,373.46 L293.56,373.27 L293.27,373.07 L293.03,372.87 L292.84,372.65 L292.71,372.44 L292.63,372.22 L292.60,372.00" fill="none" stroke="#141414" stroke-width="0.8" />
<ellipse cx="301.4" cy="371.2" rx="8.8" ry="2.8" fill="white" stroke="#141414" stroke-width="0.9"/>
<polygon points="280.5,392.5 301.8,401.8 301.8,406.4 281.5,397.2" fill="white" stroke="#141414" stroke-width="1.1" stroke-linejoin="round"/>
<polygon points="301.8,401.8 322.1,391.6 322.1,395.3 301.8,406.4" fill="white" stroke="#141414" stroke-width="1.1" stroke-linejoin="round"/>
<polygon points="280.5,392.5 300.9,384.2 322.1,391.6 301.8,401.8" fill="none" stroke="#141414" stroke-width="1.1" stroke-linejoin="round"/>
<ellipse cx="285.2" cy="393" rx="2.3" ry="1.3" fill="none" stroke="#141414" stroke-width="0.7"/>
<ellipse cx="318.4" cy="392.5" rx="2.3" ry="1.3" fill="none" stroke="#141414" stroke-width="0.7"/>
<ellipse cx="301.8" cy="399.8" rx="2.3" ry="1.3" fill="none" stroke="#141414" stroke-width="0.7"/>
<rect x="282.90" y="400.60" width="4.6" height="6.4" rx="1.4" fill="#1e1e1e"/>
<path d="M283.50,403.50 L286.90,403.50" stroke="#bbb" stroke-width="0.6"/>
<path d="M284.90,401.10 L284.90,402.80" stroke="#888" stroke-width="0.5"/>
<rect x="298.70" y="407.60" width="5.2" height="8.8" rx="1.4" fill="#1e1e1e"/>
<path d="M299.30,411.70 L303.30,411.70" stroke="#bbb" stroke-width="0.6"/>
<path d="M301.00,408.10 L301.00,411.00" stroke="#888" stroke-width="0.5"/>
<rect x="315.10" y="401.00" width="4.8" height="6" rx="1.4" fill="#1e1e1e"/>
<path d="M315.70,403.70 L319.30,403.70" stroke="#bbb" stroke-width="0.6"/>
<path d="M317.20,401.50 L317.20,403.00" stroke="#888" stroke-width="0.5"/>
<path d="M290.7,380 L290.7,394 L312.9,394 L312.9,380" fill="white" stroke="#141414" stroke-width="0.9" />
<ellipse cx="301.8" cy="379.5" rx="11.1" ry="3.2" fill="white" stroke="#141414" stroke-width="0.9"/>
<path d="M313.00,384.00 L312.97,384.25 L312.86,384.50 L312.69,384.75 L312.45,384.99 L312.15,385.22 L311.78,385.45 L311.35,385.67 L310.86,385.88 L310.32,386.08 L309.72,386.26 L309.07,386.43 L308.38,386.59 L307.65,386.73 L306.88,386.85 L306.09,386.96 L305.26,387.04 L304.41,387.11 L303.55,387.16 L302.68,387.19 L301.80,387.20 L300.92,387.19 L300.05,387.16 L299.19,387.11 L298.34,387.04 L297.51,386.96 L296.72,386.85 L295.95,386.73 L295.22,386.59 L294.53,386.43 L293.88,386.26 L293.28,386.08 L292.74,385.88 L292.25,385.67 L291.82,385.45 L291.45,385.22 L291.15,384.99 L290.91,384.75 L290.74,384.50 L290.63,384.25 L290.60,384.00" fill="none" stroke="#141414" stroke-width="1.0" />
<path d="M313.00,386.50 L312.97,386.75 L312.86,387.00 L312.69,387.25 L312.45,387.49 L312.15,387.72 L311.78,387.95 L311.35,388.17 L310.86,388.38 L310.32,388.58 L309.72,388.76 L309.07,388.93 L308.38,389.09 L307.65,389.23 L306.88,389.35 L306.09,389.46 L305.26,389.54 L304.41,389.61 L303.55,389.66 L302.68,389.69 L301.80,389.70 L300.92,389.69 L300.05,389.66 L299.19,389.61 L298.34,389.54 L297.51,389.46 L296.72,389.35 L295.95,389.23 L295.22,389.09 L294.53,388.93 L293.88,388.76 L293.28,388.58 L292.74,388.38 L292.25,388.17 L291.82,387.95 L291.45,387.72 L291.15,387.49 L290.91,387.25 L290.74,387.00 L290.63,386.75 L290.60,386.50" fill="none" stroke="#141414" stroke-width="1.8" />
<path d="M313.00,389.00 L312.97,389.25 L312.86,389.50 L312.69,389.75 L312.45,389.99 L312.15,390.22 L311.78,390.45 L311.35,390.67 L310.86,390.88 L310.32,391.08 L309.72,391.26 L309.07,391.43 L308.38,391.59 L307.65,391.73 L306.88,391.85 L306.09,391.96 L305.26,392.04 L304.41,392.11 L303.55,392.16 L302.68,392.19 L301.80,392.20 L300.92,392.19 L300.05,392.16 L299.19,392.11 L298.34,392.04 L297.51,391.96 L296.72,391.85 L295.95,391.73 L295.22,391.59 L294.53,391.43 L293.88,391.26 L293.28,391.08 L292.74,390.88 L292.25,390.67 L291.82,390.45 L291.45,390.22 L291.15,389.99 L290.91,389.75 L290.74,389.50 L290.63,389.25 L290.60,389.00" fill="none" stroke="#141414" stroke-width="1.8" />
<path d="M313.00,391.50 L312.97,391.75 L312.86,392.00 L312.69,392.25 L312.45,392.49 L312.15,392.72 L311.78,392.95 L311.35,393.17 L310.86,393.38 L310.32,393.58 L309.72,393.76 L309.07,393.93 L308.38,394.09 L307.65,394.23 L306.88,394.35 L306.09,394.46 L305.26,394.54 L304.41,394.61 L303.55,394.66 L302.68,394.69 L301.80,394.70 L300.92,394.69 L300.05,394.66 L299.19,394.61 L298.34,394.54 L297.51,394.46 L296.72,394.35 L295.95,394.23 L295.22,394.09 L294.53,393.93 L293.88,393.76 L293.28,393.58 L292.74,393.38 L292.25,393.17 L291.82,392.95 L291.45,392.72 L291.15,392.49 L290.91,392.25 L290.74,392.00 L290.63,391.75 L290.60,391.50" fill="none" stroke="#141414" stroke-width="1.6" />
<path d="M313.00,394.00 L312.97,394.25 L312.86,394.50 L312.69,394.75 L312.45,394.99 L312.15,395.22 L311.78,395.45 L311.35,395.67 L310.86,395.88 L310.32,396.08 L309.72,396.26 L309.07,396.43 L308.38,396.59 L307.65,396.73 L306.88,396.85 L306.09,396.96 L305.26,397.04 L304.41,397.11 L303.55,397.16 L302.68,397.19 L301.80,397.20 L300.92,397.19 L300.05,397.16 L299.19,397.11 L298.34,397.04 L297.51,396.96 L296.72,396.85 L295.95,396.73 L295.22,396.59 L294.53,396.43 L293.88,396.26 L293.28,396.08 L292.74,395.88 L292.25,395.67 L291.82,395.45 L291.45,395.22 L291.15,394.99 L290.91,394.75 L290.74,394.50 L290.63,394.25 L290.60,394.00" fill="none" stroke="#141414" stroke-width="1.8" />
<path d="M313.00,396.00 L312.97,396.25 L312.86,396.50 L312.69,396.75 L312.45,396.99 L312.15,397.22 L311.78,397.45 L311.35,397.67 L310.86,397.88 L310.32,398.08 L309.72,398.26 L309.07,398.43 L308.38,398.59 L307.65,398.73 L306.88,398.85 L306.09,398.96 L305.26,399.04 L304.41,399.11 L303.55,399.16 L302.68,399.19 L301.80,399.20 L300.92,399.19 L300.05,399.16 L299.19,399.11 L298.34,399.04 L297.51,398.96 L296.72,398.85 L295.95,398.73 L295.22,398.59 L294.53,398.43 L293.88,398.26 L293.28,398.08 L292.74,397.88 L292.25,397.67 L291.82,397.45 L291.45,397.22 L291.15,396.99 L290.91,396.75 L290.74,396.50 L290.63,396.25 L290.60,396.00" fill="none" stroke="#141414" stroke-width="1.4" />
</g>
<polygon points="589.8,300 589.8,325.6 608.8,335.4 630.8,323.8 630.8,300" fill="white" stroke="#141414" stroke-width="0" stroke-linejoin="round"/>
<path d="M589.8,304 L589.8,325.6 L608.8,335.4 L630.8,323.8 L630.8,312" fill="none" stroke="#141414" stroke-width="1.0" />
<path d="M589.8,315.20 L608.8,325.00 L630.8,316.60" fill="none" stroke="#141414" stroke-width="1.0" />
<path d="M589.8,316.05 L608.8,325.85 L630.8,317.45" fill="none" stroke="#141414" stroke-width="0.5" />
<path d="M589.8,316.90 L608.8,326.70 L630.8,318.30" fill="none" stroke="#141414" stroke-width="0.5" />
<path d="M589.8,317.75 L608.8,327.55 L630.8,319.15" fill="none" stroke="#141414" stroke-width="0.5" />
<path d="M589.8,318.60 L608.8,328.40 L630.8,320.00" fill="none" stroke="#141414" stroke-width="1.0" />
<path d="M608.8,318 L608.8,335.4 M611.2,318 L611.2,334.2" fill="none" stroke="#141414" stroke-width="0.8" />
<circle cx="608.9" cy="325.6" r="1.2" fill="#141414"/><circle cx="611.3" cy="325.2" r="1.1" fill="#141414"/><circle cx="589.9" cy="315.6" r="1" fill="#141414"/>
<path d="M609.5,334.5 L609.5,339.5 M621.8,331 L621.8,339.5" fill="none" stroke="#141414" stroke-width="0.9" />
<path d="M579.00,220.00 C577.50,221.50 572.58,225.83 570.00,229.00 C567.42,232.17 565.33,235.50 563.50,239.00 C561.67,242.50 560.12,245.85 559.00,250.00 C557.88,254.15 556.93,259.27 556.80,263.90 C556.67,268.53 557.17,273.87 558.20,277.80 C559.23,281.73 560.80,284.97 563.00,287.50 C565.20,290.03 568.85,291.62 571.40,293.00 C573.95,294.38 575.07,294.17 578.30,295.80 C581.53,297.43 586.85,300.72 590.80,302.80 C594.75,304.88 600.13,307.38 602.00,308.30 L612,300 L630,235 L600,226 Z" fill="white" stroke="#141414" stroke-width="0" />
<path d="M579.00,220.00 C577.50,221.50 572.58,225.83 570.00,229.00 C567.42,232.17 565.33,235.50 563.50,239.00 C561.67,242.50 560.12,245.85 559.00,250.00 C557.88,254.15 556.93,259.27 556.80,263.90 C556.67,268.53 557.17,273.87 558.20,277.80 C559.23,281.73 560.80,284.97 563.00,287.50 C565.20,290.03 568.85,291.62 571.40,293.00 C573.95,294.38 575.07,294.17 578.30,295.80 C581.53,297.43 586.85,300.72 590.80,302.80 C594.75,304.88 600.13,307.38 602.00,308.30" fill="none" stroke="#141414" stroke-width="0.9" />
<path d="M583.00,221.50 C581.58,222.92 577.00,226.83 574.50,230.00 C572.00,233.17 569.68,237.17 568.00,240.50 C566.32,243.83 565.27,246.10 564.40,250.00 C563.53,253.90 562.83,259.27 562.80,263.90 C562.77,268.53 563.12,273.87 564.20,277.80 C565.28,281.73 567.08,284.70 569.30,287.50 C571.52,290.30 576.13,293.42 577.50,294.60" fill="none" stroke="#141414" stroke-width="0.8" />
<path d="M586.00,222.50 C584.58,224.00 580.00,228.25 577.50,231.50 C575.00,234.75 572.75,238.92 571.00,242.00 C569.25,245.08 567.92,246.35 567.00,250.00 C566.08,253.65 565.53,259.27 565.50,263.90 C565.47,268.53 565.88,273.95 566.80,277.80 C567.72,281.65 569.17,284.17 571.00,287.00 C572.83,289.83 576.67,293.50 577.80,294.80" fill="none" stroke="#141414" stroke-width="0.8" />
<path d="M589.00,224.00 C587.67,225.50 583.33,229.67 581.00,233.00 C578.67,236.33 576.60,240.83 575.00,244.00 C573.40,247.17 572.32,248.68 571.40,252.00 C570.48,255.32 569.65,259.60 569.50,263.90 C569.35,268.20 569.75,273.95 570.50,277.80 C571.25,281.65 572.70,284.13 574.00,287.00 C575.30,289.87 577.58,293.67 578.30,295.00" fill="none" stroke="#141414" stroke-width="0.8" />
<path d="M588.00,235.80 C589.33,236.08 593.50,236.73 596.00,237.50 C598.50,238.27 600.83,239.32 603.00,240.40 C605.17,241.48 607.25,242.65 609.00,244.00 C610.75,245.35 612.75,247.75 613.50,248.50" fill="none" stroke="#141414" stroke-width="0.9" />
<ellipse cx="630.1" cy="275.4" rx="31.4" ry="42.5" transform="rotate(23.9 630.1 275.4)" fill="white" stroke="#141414" stroke-width="0.9"/>
<ellipse cx="633.5" cy="276.4" rx="31.4" ry="42.5" transform="rotate(23.9 633.5 276.4)" fill="white" stroke="#141414" stroke-width="1.3"/>
<ellipse cx="637.1" cy="277.4" rx="31.4" ry="42.5" transform="rotate(23.9 637.1 277.4)" fill="white" stroke="#141414" stroke-width="1.4"/>
<ellipse cx="639.6" cy="279.1" rx="22.4" ry="29.7" transform="rotate(22 639.6 279.1)" fill="none" stroke="#141414" stroke-width="1.0"/>
<path d="M645.00,251.00 C642.83,252.17 635.67,254.50 632.00,258.00 C628.33,261.50 625.25,266.67 623.00,272.00 C620.75,277.33 619.05,285.50 618.50,290.00 C617.95,294.50 619.50,297.50 619.70,299.00" fill="none" stroke="#141414" stroke-width="0.8" />
<path d="M641.00,203.00 C640.42,204.00 638.23,207.18 637.50,209.00 C636.77,210.82 636.93,212.07 636.60,213.90 C636.27,215.73 635.80,217.88 635.50,220.00 C635.20,222.12 634.92,225.50 634.80,226.60" fill="none" stroke="#141414" stroke-width="1.1" />
<path d="M634.8,226.6 L640,231.8" fill="none" stroke="#141414" stroke-width="0.9" />
<path d="M601.5,226.9 L610.6,222.5 L612.9,224.2 L614.6,235.8 L615.2,240" fill="none" stroke="#141414" stroke-width="1.1" />
<path d="M602,226.6 L636.6,213.9" fill="none" stroke="#141414" stroke-width="1.1" />
<path d="M614.6,234.6 L634.3,227.7" fill="none" stroke="#141414" stroke-width="1.1" />
<g transform="translate(340,20)">
<ellipse cx="190.2" cy="202" rx="16.5" ry="27.1" transform="rotate(26 190.2 202)" fill="none" stroke="#141414" stroke-width="1.0"/>
<ellipse cx="190.2" cy="202" rx="15.1" ry="25.7" transform="rotate(26 190.2 202)" fill="none" stroke="#141414" stroke-width="0.9"/>
<path d="M179.8,229 L179.2,205.3 L190,193 L204,189.5 L214,189 L220,192 L226,200 L226,236 L190.2,228.6 Z" fill="white" stroke="#141414" stroke-width="0" />
<path d="M190.3,229 C186,222 186,205 195,193 C199,188 205,186 209.5,187" fill="none" stroke="#141414" stroke-width="0.7" />
<path d="M179.8,229 L179.2,205.3 L198.5,181.7 L205.3,182.2 L208.8,184.6 L208.3,181.3 L216.5,181.7 L217.9,187.3" fill="none" stroke="#141414" stroke-width="1.3" />
<path d="M179.8,229 L190.2,228.6" fill="none" stroke="#141414" stroke-width="1.3" />
</g>
<g transform="translate(343,22)">
<ellipse cx="209.7" cy="212.5" rx="12.8" ry="28.1" transform="rotate(31.1 209.7 212.5)" fill="white" stroke="#141414" stroke-width="1.0"/>
<path d="M224.21,188.44 L232.21,192.44 L203.19,240.56 L195.19,236.56 Z" fill="white" stroke="#141414" stroke-width="0" />
<path d="M224.21,188.44 L232.21,192.44 M203.19,240.56 L195.19,236.56" fill="none" stroke="#141414" stroke-width="0.9" />
<path d="M198.79,238.36 L197.97,237.77 L197.25,237.03 L196.63,236.15 L196.11,235.14 L195.70,234.00 L195.39,232.74 L195.20,231.36 L195.12,229.88 L195.14,228.30 L195.29,226.64 L195.54,224.90 L195.90,223.09 L196.37,221.23 L196.94,219.33 L197.62,217.40 L198.39,215.45 L199.25,213.49 L200.20,211.53 L201.23,209.60 L202.34,207.69 L203.51,205.82 L204.75,204.01 L206.03,202.25 L207.36,200.58 L208.73,198.98 L210.12,197.49 L211.54,196.09 L212.96,194.81 L214.39,193.65 L215.81,192.61 L217.22,191.71 L218.60,190.95 L219.95,190.33 L221.26,189.86 L222.52,189.54 L223.72,189.37 L224.85,189.36 L225.92,189.50 L226.91,189.79 L227.81,190.24" fill="none" stroke="#141414" stroke-width="0.8" />
<path d="M199.59,238.76 L198.77,238.17 L198.05,237.43 L197.43,236.55 L196.91,235.54 L196.50,234.40 L196.19,233.14 L196.00,231.76 L195.92,230.28 L195.94,228.70 L196.09,227.04 L196.34,225.30 L196.70,223.49 L197.17,221.63 L197.74,219.73 L198.42,217.80 L199.19,215.85 L200.05,213.89 L201.00,211.93 L202.03,210.00 L203.14,208.09 L204.31,206.22 L205.55,204.41 L206.83,202.65 L208.16,200.98 L209.53,199.38 L210.92,197.89 L212.34,196.49 L213.76,195.21 L215.19,194.05 L216.61,193.01 L218.02,192.11 L219.40,191.35 L220.75,190.73 L222.06,190.26 L223.32,189.94 L224.52,189.77 L225.65,189.76 L226.72,189.90 L227.71,190.19 L228.61,190.64" fill="none" stroke="#141414" stroke-width="0.8" />
<ellipse cx="217.7" cy="216.5" rx="12.8" ry="28.1" transform="rotate(31.1 217.7 216.5)" fill="white" stroke="#141414" stroke-width="1.1"/>
<ellipse cx="217.2" cy="216.5" rx="10.600000000000001" ry="24.1" transform="rotate(31.1 217.2 216.5)" fill="none" stroke="#141414" stroke-width="0.8"/>
<ellipse cx="215.5" cy="216.8" rx="8.6" ry="20" transform="rotate(27 215.5 216.8)" fill="none" stroke="#141414" stroke-width="0.9"/>
<path d="M208.23,234.87 L207.84,234.35 L207.50,233.74 L207.21,233.06 L206.98,232.31 L206.81,231.48 L206.69,230.59 L206.63,229.64 L206.63,228.63 L206.68,227.57 L206.79,226.46 L206.96,225.32 L207.19,224.13 L207.47,222.92 L207.81,221.68 L208.19,220.43 L208.63,219.16 L209.12,217.89 L209.65,216.61 L210.22,215.35 L210.84,214.10 L211.49,212.86 L212.18,211.65 L212.89,210.48 L213.64,209.34 L214.40,208.24 L215.19,207.19 L216.00,206.19 L216.81,205.25 L217.64,204.37 L218.47,203.55 L219.30,202.81 L220.12,202.14 L220.94,201.55 L221.74,201.04 L222.53,200.62 L223.30,200.27 L224.05,200.01 L224.77,199.85 L225.46,199.76 L226.11,199.77" fill="none" stroke="#141414" stroke-width="0.8" />
</g>
<g transform="translate(314,0)">
<path d="M294,146 L294,177 M309,146 L309,177" fill="none" stroke="#141414" stroke-width="1.1" />
<path d="M294,178 L294,200 M308.6,178 L308.6,200" fill="none" stroke="#141414" stroke-width="1.1" />
<ellipse cx="301.3" cy="177.8" rx="7.3" ry="2.4" fill="white" stroke="#141414" stroke-width="0.9"/>
<path d="M308.60,180.30 L308.58,180.49 L308.51,180.68 L308.40,180.86 L308.24,181.04 L308.04,181.22 L307.80,181.39 L307.52,181.55 L307.21,181.71 L306.85,181.86 L306.46,182.00 L306.04,182.12 L305.59,182.24 L305.11,182.35 L304.61,182.44 L304.09,182.52 L303.56,182.58 L303.00,182.63 L302.44,182.67 L301.87,182.69 L301.30,182.70 L300.73,182.69 L300.16,182.67 L299.60,182.63 L299.04,182.58 L298.51,182.52 L297.99,182.44 L297.49,182.35 L297.01,182.24 L296.56,182.12 L296.14,182.00 L295.75,181.86 L295.39,181.71 L295.08,181.55 L294.80,181.39 L294.56,181.22 L294.36,181.04 L294.20,180.86 L294.09,180.68 L294.02,180.49 L294.00,180.30" fill="none" stroke="#141414" stroke-width="1.0" />
<polygon points="283,171.5 285.5,169.3 290,170.2 290,179.6 287.5,181.2 283,180" fill="white" stroke="#141414" stroke-width="1.1" stroke-linejoin="round"/>
<path d="M283,171.5 L287.5,172.5 L290,170.2 M287.5,172.5 L287.5,181.2" fill="none" stroke="#141414" stroke-width="1.1" />
<polygon points="290.3,110 313,110 313,147 290.3,147" fill="#d4d4d4" stroke="#141414" stroke-width="0" stroke-linejoin="round"/>
<path d="M290.3,110 L290.3,146 M313,110 L313,146" fill="none" stroke="#141414" stroke-width="1.1" />
<path d="M312.95,117.20 L312.92,117.47 L312.81,117.73 L312.64,117.99 L312.39,118.25 L312.09,118.50 L311.71,118.74 L311.28,118.98 L310.78,119.20 L310.23,119.41 L309.63,119.60 L308.97,119.79 L308.27,119.95 L307.53,120.10 L306.75,120.23 L305.94,120.34 L305.11,120.43 L304.25,120.51 L303.38,120.56 L302.49,120.59 L301.60,120.60 L300.71,120.59 L299.82,120.56 L298.95,120.51 L298.09,120.43 L297.26,120.34 L296.45,120.23 L295.67,120.10 L294.93,119.95 L294.23,119.79 L293.57,119.60 L292.97,119.41 L292.42,119.20 L291.92,118.98 L291.49,118.74 L291.11,118.50 L290.81,118.25 L290.56,117.99 L290.39,117.73 L290.28,117.47 L290.25,117.20" fill="none" stroke="#6a6a6a" stroke-width="2.6" />
<path d="M312.95,118.10 L312.92,118.37 L312.81,118.63 L312.64,118.89 L312.39,119.15 L312.09,119.40 L311.71,119.64 L311.28,119.88 L310.78,120.10 L310.23,120.31 L309.63,120.50 L308.97,120.69 L308.27,120.85 L307.53,121.00 L306.75,121.13 L305.94,121.24 L305.11,121.33 L304.25,121.41 L303.38,121.46 L302.49,121.49 L301.60,121.50 L300.71,121.49 L299.82,121.46 L298.95,121.41 L298.09,121.33 L297.26,121.24 L296.45,121.13 L295.67,121.00 L294.93,120.85 L294.23,120.69 L293.57,120.50 L292.97,120.31 L292.42,120.10 L291.92,119.88 L291.49,119.64 L291.11,119.40 L290.81,119.15 L290.56,118.89 L290.39,118.63 L290.28,118.37 L290.25,118.10" fill="none" stroke="#222" stroke-width="0.9" />
<path d="M312.78,116.19 L312.61,116.42 L312.39,116.65 L312.12,116.87 L311.80,117.09 L311.43,117.30 L311.01,117.50 L310.54,117.69 L310.03,117.88 L309.48,118.05 L308.90,118.20 L308.27,118.35 L307.61,118.48 L306.93,118.60 L306.22,118.71 L305.48,118.79 L304.73,118.87 L303.96,118.93 L303.18,118.97 L302.39,118.99 L301.60,119.00 L300.81,118.99 L300.02,118.97 L299.24,118.93 L298.47,118.87 L297.72,118.79 L296.98,118.71 L296.27,118.60 L295.59,118.48 L294.93,118.35 L294.30,118.20 L293.72,118.05 L293.17,117.88 L292.66,117.69 L292.19,117.50 L291.77,117.30 L291.40,117.09 L291.08,116.87 L290.81,116.65 L290.59,116.42 L290.42,116.19" fill="none" stroke="#f4f4f4" stroke-width="0.9" />
<path d="M312.95,121.60 L312.92,121.87 L312.81,122.13 L312.64,122.39 L312.39,122.65 L312.09,122.90 L311.71,123.14 L311.28,123.38 L310.78,123.60 L310.23,123.81 L309.63,124.00 L308.97,124.19 L308.27,124.35 L307.53,124.50 L306.75,124.63 L305.94,124.74 L305.11,124.83 L304.25,124.91 L303.38,124.96 L302.49,124.99 L301.60,125.00 L300.71,124.99 L299.82,124.96 L298.95,124.91 L298.09,124.83 L297.26,124.74 L296.45,124.63 L295.67,124.50 L294.93,124.35 L294.23,124.19 L293.57,124.00 L292.97,123.81 L292.42,123.60 L291.92,123.38 L291.49,123.14 L291.11,122.90 L290.81,122.65 L290.56,122.39 L290.39,122.13 L290.28,121.87 L290.25,121.60" fill="none" stroke="#6a6a6a" stroke-width="2.6" />
<path d="M312.95,122.50 L312.92,122.77 L312.81,123.03 L312.64,123.29 L312.39,123.55 L312.09,123.80 L311.71,124.04 L311.28,124.28 L310.78,124.50 L310.23,124.71 L309.63,124.90 L308.97,125.09 L308.27,125.25 L307.53,125.40 L306.75,125.53 L305.94,125.64 L305.11,125.73 L304.25,125.81 L303.38,125.86 L302.49,125.89 L301.60,125.90 L300.71,125.89 L299.82,125.86 L298.95,125.81 L298.09,125.73 L297.26,125.64 L296.45,125.53 L295.67,125.40 L294.93,125.25 L294.23,125.09 L293.57,124.90 L292.97,124.71 L292.42,124.50 L291.92,124.28 L291.49,124.04 L291.11,123.80 L290.81,123.55 L290.56,123.29 L290.39,123.03 L290.28,122.77 L290.25,122.50" fill="none" stroke="#222" stroke-width="0.9" />
<path d="M312.78,120.59 L312.61,120.82 L312.39,121.05 L312.12,121.27 L311.80,121.49 L311.43,121.70 L311.01,121.90 L310.54,122.09 L310.03,122.28 L309.48,122.45 L308.90,122.60 L308.27,122.75 L307.61,122.88 L306.93,123.00 L306.22,123.11 L305.48,123.19 L304.73,123.27 L303.96,123.33 L303.18,123.37 L302.39,123.39 L301.60,123.40 L300.81,123.39 L300.02,123.37 L299.24,123.33 L298.47,123.27 L297.72,123.19 L296.98,123.11 L296.27,123.00 L295.59,122.88 L294.93,122.75 L294.30,122.60 L293.72,122.45 L293.17,122.28 L292.66,122.09 L292.19,121.90 L291.77,121.70 L291.40,121.49 L291.08,121.27 L290.81,121.05 L290.59,120.82 L290.42,120.59" fill="none" stroke="#f4f4f4" stroke-width="0.9" />
<path d="M312.95,126.00 L312.92,126.27 L312.81,126.53 L312.64,126.79 L312.39,127.05 L312.09,127.30 L311.71,127.54 L311.28,127.78 L310.78,128.00 L310.23,128.21 L309.63,128.40 L308.97,128.59 L308.27,128.75 L307.53,128.90 L306.75,129.03 L305.94,129.14 L305.11,129.23 L304.25,129.31 L303.38,129.36 L302.49,129.39 L301.60,129.40 L300.71,129.39 L299.82,129.36 L298.95,129.31 L298.09,129.23 L297.26,129.14 L296.45,129.03 L295.67,128.90 L294.93,128.75 L294.23,128.59 L293.57,128.40 L292.97,128.21 L292.42,128.00 L291.92,127.78 L291.49,127.54 L291.11,127.30 L290.81,127.05 L290.56,126.79 L290.39,126.53 L290.28,126.27 L290.25,126.00" fill="none" stroke="#6a6a6a" stroke-width="2.6" />
<path d="M312.95,126.90 L312.92,127.17 L312.81,127.43 L312.64,127.69 L312.39,127.95 L312.09,128.20 L311.71,128.44 L311.28,128.68 L310.78,128.90 L310.23,129.11 L309.63,129.30 L308.97,129.49 L308.27,129.65 L307.53,129.80 L306.75,129.93 L305.94,130.04 L305.11,130.13 L304.25,130.21 L303.38,130.26 L302.49,130.29 L301.60,130.30 L300.71,130.29 L299.82,130.26 L298.95,130.21 L298.09,130.13 L297.26,130.04 L296.45,129.93 L295.67,129.80 L294.93,129.65 L294.23,129.49 L293.57,129.30 L292.97,129.11 L292.42,128.90 L291.92,128.68 L291.49,128.44 L291.11,128.20 L290.81,127.95 L290.56,127.69 L290.39,127.43 L290.28,127.17 L290.25,126.90" fill="none" stroke="#222" stroke-width="0.9" />
<path d="M312.78,124.99 L312.61,125.22 L312.39,125.45 L312.12,125.67 L311.80,125.89 L311.43,126.10 L311.01,126.30 L310.54,126.49 L310.03,126.68 L309.48,126.85 L308.90,127.00 L308.27,127.15 L307.61,127.28 L306.93,127.40 L306.22,127.51 L305.48,127.59 L304.73,127.67 L303.96,127.73 L303.18,127.77 L302.39,127.79 L301.60,127.80 L300.81,127.79 L300.02,127.77 L299.24,127.73 L298.47,127.67 L297.72,127.59 L296.98,127.51 L296.27,127.40 L295.59,127.28 L294.93,127.15 L294.30,127.00 L293.72,126.85 L293.17,126.68 L292.66,126.49 L292.19,126.30 L291.77,126.10 L291.40,125.89 L291.08,125.67 L290.81,125.45 L290.59,125.22 L290.42,124.99" fill="none" stroke="#f4f4f4" stroke-width="0.9" />
<path d="M312.95,130.40 L312.92,130.67 L312.81,130.93 L312.64,131.19 L312.39,131.45 L312.09,131.70 L311.71,131.94 L311.28,132.18 L310.78,132.40 L310.23,132.61 L309.63,132.80 L308.97,132.99 L308.27,133.15 L307.53,133.30 L306.75,133.43 L305.94,133.54 L305.11,133.63 L304.25,133.71 L303.38,133.76 L302.49,133.79 L301.60,133.80 L300.71,133.79 L299.82,133.76 L298.95,133.71 L298.09,133.63 L297.26,133.54 L296.45,133.43 L295.67,133.30 L294.93,133.15 L294.23,132.99 L293.57,132.80 L292.97,132.61 L292.42,132.40 L291.92,132.18 L291.49,131.94 L291.11,131.70 L290.81,131.45 L290.56,131.19 L290.39,130.93 L290.28,130.67 L290.25,130.40" fill="none" stroke="#6a6a6a" stroke-width="2.6" />
<path d="M312.95,131.30 L312.92,131.57 L312.81,131.83 L312.64,132.09 L312.39,132.35 L312.09,132.60 L311.71,132.84 L311.28,133.08 L310.78,133.30 L310.23,133.51 L309.63,133.70 L308.97,133.89 L308.27,134.05 L307.53,134.20 L306.75,134.33 L305.94,134.44 L305.11,134.53 L304.25,134.61 L303.38,134.66 L302.49,134.69 L301.60,134.70 L300.71,134.69 L299.82,134.66 L298.95,134.61 L298.09,134.53 L297.26,134.44 L296.45,134.33 L295.67,134.20 L294.93,134.05 L294.23,133.89 L293.57,133.70 L292.97,133.51 L292.42,133.30 L291.92,133.08 L291.49,132.84 L291.11,132.60 L290.81,132.35 L290.56,132.09 L290.39,131.83 L290.28,131.57 L290.25,131.30" fill="none" stroke="#222" stroke-width="0.9" />
<path d="M312.78,129.39 L312.61,129.62 L312.39,129.85 L312.12,130.07 L311.80,130.29 L311.43,130.50 L311.01,130.70 L310.54,130.89 L310.03,131.08 L309.48,131.25 L308.90,131.40 L308.27,131.55 L307.61,131.68 L306.93,131.80 L306.22,131.91 L305.48,131.99 L304.73,132.07 L303.96,132.13 L303.18,132.17 L302.39,132.19 L301.60,132.20 L300.81,132.19 L300.02,132.17 L299.24,132.13 L298.47,132.07 L297.72,131.99 L296.98,131.91 L296.27,131.80 L295.59,131.68 L294.93,131.55 L294.30,131.40 L293.72,131.25 L293.17,131.08 L292.66,130.89 L292.19,130.70 L291.77,130.50 L291.40,130.29 L291.08,130.07 L290.81,129.85 L290.59,129.62 L290.42,129.39" fill="none" stroke="#f4f4f4" stroke-width="0.9" />
<path d="M312.95,134.60 L312.92,134.87 L312.81,135.13 L312.64,135.39 L312.39,135.65 L312.09,135.90 L311.71,136.14 L311.28,136.38 L310.78,136.60 L310.23,136.81 L309.63,137.00 L308.97,137.19 L308.27,137.35 L307.53,137.50 L306.75,137.63 L305.94,137.74 L305.11,137.83 L304.25,137.91 L303.38,137.96 L302.49,137.99 L301.60,138.00 L300.71,137.99 L299.82,137.96 L298.95,137.91 L298.09,137.83 L297.26,137.74 L296.45,137.63 L295.67,137.50 L294.93,137.35 L294.23,137.19 L293.57,137.00 L292.97,136.81 L292.42,136.60 L291.92,136.38 L291.49,136.14 L291.11,135.90 L290.81,135.65 L290.56,135.39 L290.39,135.13 L290.28,134.87 L290.25,134.60" fill="none" stroke="#6a6a6a" stroke-width="2.6" />
<path d="M312.95,135.50 L312.92,135.77 L312.81,136.03 L312.64,136.29 L312.39,136.55 L312.09,136.80 L311.71,137.04 L311.28,137.28 L310.78,137.50 L310.23,137.71 L309.63,137.90 L308.97,138.09 L308.27,138.25 L307.53,138.40 L306.75,138.53 L305.94,138.64 L305.11,138.73 L304.25,138.81 L303.38,138.86 L302.49,138.89 L301.60,138.90 L300.71,138.89 L299.82,138.86 L298.95,138.81 L298.09,138.73 L297.26,138.64 L296.45,138.53 L295.67,138.40 L294.93,138.25 L294.23,138.09 L293.57,137.90 L292.97,137.71 L292.42,137.50 L291.92,137.28 L291.49,137.04 L291.11,136.80 L290.81,136.55 L290.56,136.29 L290.39,136.03 L290.28,135.77 L290.25,135.50" fill="none" stroke="#222" stroke-width="0.9" />
<path d="M312.78,133.59 L312.61,133.82 L312.39,134.05 L312.12,134.27 L311.80,134.49 L311.43,134.70 L311.01,134.90 L310.54,135.09 L310.03,135.28 L309.48,135.45 L308.90,135.60 L308.27,135.75 L307.61,135.88 L306.93,136.00 L306.22,136.11 L305.48,136.19 L304.73,136.27 L303.96,136.33 L303.18,136.37 L302.39,136.39 L301.60,136.40 L300.81,136.39 L300.02,136.37 L299.24,136.33 L298.47,136.27 L297.72,136.19 L296.98,136.11 L296.27,136.00 L295.59,135.88 L294.93,135.75 L294.30,135.60 L293.72,135.45 L293.17,135.28 L292.66,135.09 L292.19,134.90 L291.77,134.70 L291.40,134.49 L291.08,134.27 L290.81,134.05 L290.59,133.82 L290.42,133.59" fill="none" stroke="#f4f4f4" stroke-width="0.9" />
<ellipse cx="301.6" cy="139.5" rx="11.35" ry="3.5" fill="#dedede" stroke="#141414" stroke-width="0.8"/>
<ellipse cx="301.6" cy="139.3" rx="7.2" ry="2.2" fill="#fafafa" stroke="#141414" stroke-width="0.7"/>
<path d="M312.95,145.20 L312.92,145.46 L312.81,145.72 L312.64,145.97 L312.39,146.22 L312.09,146.46 L311.71,146.70 L311.28,146.92 L310.78,147.14 L310.23,147.34 L309.63,147.53 L308.97,147.71 L308.27,147.87 L307.53,148.01 L306.75,148.14 L305.94,148.25 L305.11,148.34 L304.25,148.41 L303.38,148.46 L302.49,148.49 L301.60,148.50 L300.71,148.49 L299.82,148.46 L298.95,148.41 L298.09,148.34 L297.26,148.25 L296.45,148.14 L295.67,148.01 L294.93,147.87 L294.23,147.71 L293.57,147.53 L292.97,147.34 L292.42,147.14 L291.92,146.92 L291.49,146.70 L291.11,146.46 L290.81,146.22 L290.56,145.97 L290.39,145.72 L290.28,145.46 L290.25,145.20" fill="none" stroke="#2a2a2a" stroke-width="2.8" />
<path d="M312.95,142.50 L312.92,142.77 L312.81,143.03 L312.64,143.29 L312.39,143.55 L312.09,143.80 L311.71,144.04 L311.28,144.28 L310.78,144.50 L310.23,144.71 L309.63,144.90 L308.97,145.09 L308.27,145.25 L307.53,145.40 L306.75,145.53 L305.94,145.64 L305.11,145.73 L304.25,145.81 L303.38,145.86 L302.49,145.89 L301.60,145.90 L300.71,145.89 L299.82,145.86 L298.95,145.81 L298.09,145.73 L297.26,145.64 L296.45,145.53 L295.67,145.40 L294.93,145.25 L294.23,145.09 L293.57,144.90 L292.97,144.71 L292.42,144.50 L291.92,144.28 L291.49,144.04 L291.11,143.80 L290.81,143.55 L290.56,143.29 L290.39,143.03 L290.28,142.77 L290.25,142.50" fill="none" stroke="#444" stroke-width="1.0" />
<ellipse cx="301.7" cy="111" rx="10.9" ry="3.5" fill="white" stroke="#141414" stroke-width="1.1"/>
<ellipse cx="301.7" cy="110.4" rx="6.5" ry="2.2" fill="none" stroke="#141414" stroke-width="0.7"/>
<path d="M294.4,63 L294.4,92 M308.5,63 L308.5,92" fill="none" stroke="#141414" stroke-width="0.9" />
<ellipse cx="301.5" cy="62.8" rx="7.1" ry="3.7" fill="white" stroke="#141414" stroke-width="1.1"/>
<path d="M294,85 Q290.2,86.5 290.2,91 L290.2,102.5 Q290.5,106.5 294.5,106.8 L302,106.8 L311.8,100.5 L312.6,98 L312.6,80.4 L309.5,77.5 Q309,73 310.5,70.5" fill="white" stroke="#141414" stroke-width="1.1" />
<path d="M292.3,88.5 L292.3,100.5 Q292.5,103.8 296,104.2 L302,104.2 L310.8,98.5 L310.8,82 M309.5,78 L309.5,91 Q306,93 304.8,92.3 L298,92.3 M290.2,100.5 Q291,103 295,103.2" fill="none" stroke="#141414" stroke-width="0.7" />
<polygon points="293.4,91.8 295.4,89.8 299.6,89.8 301.6,91.8 301.6,97 299.6,99 295.4,99 293.4,97" fill="white" stroke="#141414" stroke-width="0.9" stroke-linejoin="round"/>
<path d="M293.4,91.8 L295.4,93.8 L299.6,93.8 L301.6,91.8 M295.4,93.8 L295.4,99 M299.6,93.8 L299.6,99" fill="none" stroke="#141414" stroke-width="0.7" />
<polygon points="260.8,209.9 283.6,222 283.8,226.4 261.4,213.6" fill="white" stroke="#141414" stroke-width="1.1" stroke-linejoin="round"/>
<polygon points="283.6,222 342,188.6 342,191.8 283.8,226.4" fill="white" stroke="#141414" stroke-width="1.1" stroke-linejoin="round"/>
<polygon points="260.8,209.9 319.8,175.6 342,188.6 283.6,222" fill="white" stroke="#141414" stroke-width="1.1" stroke-linejoin="round"/>
<ellipse cx="280.3" cy="210.8" rx="3.6" ry="2.1" transform="rotate(-10 280.3 210.8)" fill="none" stroke="#141414" stroke-width="0.8"/>
<ellipse cx="322.8" cy="185.6" rx="3.6" ry="2.1" transform="rotate(-10 322.8 185.6)" fill="none" stroke="#141414" stroke-width="0.8"/>
<path d="M294,184 L294,197.5 M308.6,184 L308.6,197.5" fill="none" stroke="#141414" stroke-width="0.9" />
<path d="M311.44,197.55 L311.56,197.93 L311.60,198.30 L311.56,198.67 L311.44,199.05 L311.25,199.41 L310.98,199.77 L310.63,200.12 L310.22,200.45 L309.74,200.77 L309.19,201.06 L308.58,201.34 L307.92,201.59 L307.21,201.82 L306.45,202.02 L305.65,202.20 L304.82,202.34 L303.97,202.45 L303.09,202.53 L302.20,202.58 L301.30,202.60 L300.40,202.58 L299.51,202.53 L298.63,202.45 L297.78,202.34 L296.95,202.20 L296.15,202.02 L295.39,201.82 L294.68,201.59 L294.02,201.34 L293.41,201.06 L292.86,200.77 L292.38,200.45 L291.97,200.12 L291.62,199.77 L291.35,199.41 L291.16,199.05 L291.04,198.67 L291.00,198.30 L291.04,197.93 L291.16,197.55" fill="none" stroke="#141414" stroke-width="0.9" />
<path d="M294,197.5 C294,200.5 308.6,200.5 308.6,197.5" fill="none" stroke="#141414" stroke-width="0.8" />
<rect x="294.4" y="183.6" width="4.4" height="10.5" fill="#141414" stroke="none" stroke-width="0"/>
<rect x="294.4" y="201" width="4.4" height="7.6" fill="#141414" stroke="none" stroke-width="0"/>
</g>
<g transform="translate(680,276.3) scale(1.07) translate(-393,-291)">
<path d="M376,289 C368,294 362,304 359.6,315.7 C358.3,325 360,335 364.6,340.7 C368.5,346 375,349.5 383.3,350.8 L406.5,350.2 C408.5,350 409.4,349 409.4,347 L409.4,339 C409,332.5 404.5,327.5 398.5,326.2 L389,325.8 C386,325.5 384.3,323 384.3,318 C384.8,312 388,308.5 393,306.8 L405,303.5 C408,302.5 409.4,301 409.4,298 L409.4,291 Z" fill="white" stroke="#141414" stroke-width="1.0" />
<path d="M409.4,302 C404,304 396,305.5 391.6,307.4 C386.5,309.5 384.5,313 384.3,318 L384.3,324" fill="none" stroke="#141414" stroke-width="0.8" />
<path d="M400,304.8 L400,310.5 M405,303.5 L405,309" fill="none" stroke="#141414" stroke-width="0.6" />
<path d="M384.3,326 C385,330 386.5,333 389,335" fill="none" stroke="#141414" stroke-width="0.7" />
<path d="M383.3,340.7 L409.4,340.7" fill="none" stroke="#141414" stroke-width="0.8" />
<path d="M387.6,340.7 L387.6,350.6 M397.3,340.7 L397.3,350.6" fill="none" stroke="#141414" stroke-width="0.6" />
<ellipse cx="393.7" cy="333.2" rx="6.4" ry="3.8" transform="rotate(-6 393.7 333.2)" fill="none" stroke="#141414" stroke-width="0.9"/>
<path d="M387,334 L391,340.5" fill="none" stroke="#141414" stroke-width="0.6" />
<path d="M376.6,291.7 L377.3,299 C381,304.5 405,304.8 409,299 L409.4,290.9" fill="white" stroke="#141414" stroke-width="1.0" />
<path d="M409.27,294.77 L409.09,295.36 L408.82,295.94 L408.47,296.51 L408.04,297.06 L407.54,297.61 L406.96,298.13 L406.31,298.64 L405.59,299.12 L404.81,299.58 L403.97,300.01 L403.07,300.41 L402.12,300.78 L401.12,301.11 L400.08,301.41 L399.01,301.68 L397.90,301.90 L396.77,302.08 L395.62,302.23 L394.46,302.33 L393.29,302.40 L392.11,302.41 L390.95,302.39 L389.79,302.33 L388.65,302.22 L387.53,302.08 L386.44,301.89 L385.38,301.66 L384.36,301.40 L383.39,301.10 L382.46,300.76 L381.59,300.39 L380.78,299.99 L380.03,299.56 L379.35,299.10 L378.73,298.61 L378.19,298.11 L377.73,297.58 L377.34,297.04 L377.03,296.48 L376.81,295.91" fill="none" stroke="#141414" stroke-width="0.7" />
<path d="M409.27,296.57 L409.09,297.16 L408.82,297.74 L408.47,298.31 L408.04,298.86 L407.54,299.41 L406.96,299.93 L406.31,300.44 L405.59,300.92 L404.81,301.38 L403.97,301.81 L403.07,302.21 L402.12,302.58 L401.12,302.91 L400.08,303.21 L399.01,303.48 L397.90,303.70 L396.77,303.88 L395.62,304.03 L394.46,304.13 L393.29,304.20 L392.11,304.21 L390.95,304.19 L389.79,304.13 L388.65,304.02 L387.53,303.88 L386.44,303.69 L385.38,303.46 L384.36,303.20 L383.39,302.90 L382.46,302.56 L381.59,302.19 L380.78,301.79 L380.03,301.36 L379.35,300.90 L378.73,300.41 L378.19,299.91 L377.73,299.38 L377.34,298.84 L377.03,298.28 L376.81,297.71" fill="none" stroke="#141414" stroke-width="0.7" />
<path d="M409.27,298.17 L409.09,298.76 L408.82,299.34 L408.47,299.91 L408.04,300.46 L407.54,301.01 L406.96,301.53 L406.31,302.04 L405.59,302.52 L404.81,302.98 L403.97,303.41 L403.07,303.81 L402.12,304.18 L401.12,304.51 L400.08,304.81 L399.01,305.08 L397.90,305.30 L396.77,305.48 L395.62,305.63 L394.46,305.73 L393.29,305.80 L392.11,305.81 L390.95,305.79 L389.79,305.73 L388.65,305.62 L387.53,305.48 L386.44,305.29 L385.38,305.06 L384.36,304.80 L383.39,304.50 L382.46,304.16 L381.59,303.79 L380.78,303.39 L380.03,302.96 L379.35,302.50 L378.73,302.01 L378.19,301.51 L377.73,300.98 L377.34,300.44 L377.03,299.88 L376.81,299.31" fill="none" stroke="#141414" stroke-width="0.7" />
<ellipse cx="393" cy="291" rx="16.5" ry="8.3" transform="rotate(-2 393 291)" fill="white" stroke="#141414" stroke-width="1.0"/>
<path d="M407.91,292.74 L407.68,293.21 L407.38,293.67 L407.01,294.13 L406.58,294.57 L406.08,295.00 L405.52,295.42 L404.91,295.82 L404.24,296.20 L403.52,296.56 L402.75,296.90 L401.93,297.22 L401.08,297.51 L400.18,297.77 L399.26,298.01 L398.30,298.22 L397.32,298.40 L396.32,298.54 L395.30,298.66 L394.28,298.74 L393.24,298.80 L392.21,298.82 L391.18,298.80 L390.16,298.76 L389.15,298.68 L388.16,298.57 L387.19,298.43 L386.25,298.26 L385.34,298.06 L384.47,297.83 L383.63,297.57 L382.84,297.29 L382.09,296.98 L381.40,296.64 L380.76,296.28 L380.18,295.91 L379.65,295.51 L379.19,295.10 L378.79,294.67 L378.46,294.23 L378.19,293.77" fill="none" stroke="#141414" stroke-width="0.8" />
<ellipse cx="391.5" cy="290.6" rx="8" ry="4.2" transform="rotate(-2 391.5 290.6)" fill="none" stroke="#141414" stroke-width="0.9"/>
<path d="M383.6,291.8 L386,292.3" fill="none" stroke="#141414" stroke-width="0.8" />
</g>
<g transform="translate(288,-15)">
<line x1="416.2" y1="313.5" x2="433" y2="309.6" stroke="#141414" stroke-width="4.6" stroke-linecap="round"/>
<line x1="416.2" y1="313.5" x2="433" y2="309.6" stroke="#fff" stroke-width="2.8" stroke-linecap="round"/>
<circle cx="416.2" cy="313.5" r="1.6" fill="#141414"/>
<line x1="417.5" y1="354" x2="434.5" y2="349.9" stroke="#141414" stroke-width="4.6" stroke-linecap="round"/>
<line x1="417.5" y1="354" x2="434.5" y2="349.9" stroke="#fff" stroke-width="2.8" stroke-linecap="round"/>
<circle cx="417.5" cy="354" r="1.6" fill="#141414"/>
</g>
<g transform="translate(314,0)">
<text transform="translate(330.04,34.00) scale(0.912,1)" font-size="10.0" fill="#262626" stroke="#262626" stroke-width="0.22">2</text>
<text transform="translate(335.72,34.00) scale(0.877,1)" font-size="10.0" fill="#262626" stroke="#262626" stroke-width="0.22">3</text>
<line x1="325.8" y1="35.3" x2="342.1" y2="35.3" stroke="#2a2a2a" stroke-width="0.95"/>
<line x1="325.8" y1="35.3" x2="305.5" y2="59.7" stroke="#2a2a2a" stroke-width="0.9"/>
<text transform="translate(330.04,51.60) scale(0.912,1)" font-size="10.0" fill="#262626" stroke="#262626" stroke-width="0.22">2</text>
<text transform="translate(335.59,51.60) scale(0.912,1)" font-size="10.0" fill="#262626" stroke="#262626" stroke-width="0.22">2</text>
<line x1="325.8" y1="53.2" x2="342.1" y2="53.2" stroke="#2a2a2a" stroke-width="0.95"/>
<line x1="325.8" y1="53.2" x2="309.5" y2="75" stroke="#2a2a2a" stroke-width="0.9"/>
<text transform="translate(332.74,69.70) scale(0.923,1)" font-size="10.0" fill="#262626" stroke="#262626" stroke-width="0.22">2</text>
<path d="M340.55,62.73 L340.55,69.70 M338.70,64.43 L340.55,62.73" stroke="#262626" stroke-width="0.95" fill="none"/>
<line x1="328.6" y1="70.7" x2="344" y2="70.7" stroke="#2a2a2a" stroke-width="0.95"/>
<line x1="328.6" y1="70.7" x2="312" y2="94" stroke="#2a2a2a" stroke-width="0.9"/>
<text transform="translate(332.47,91.20) scale(0.856,1)" font-size="10.0" fill="#262626" stroke="#262626" stroke-width="0.22">2</text>
<text transform="translate(337.79,91.20) scale(0.816,1)" font-size="10.0" fill="#262626" stroke="#262626" stroke-width="0.22">0</text>
<line x1="326.4" y1="92.3" x2="343" y2="92.3" stroke="#2a2a2a" stroke-width="0.95"/>
<line x1="326.4" y1="92.3" x2="311.6" y2="107.7" stroke="#2a2a2a" stroke-width="0.9"/>
<path d="M334.84,108.83 L334.84,115.80 M332.89,110.53 L334.84,108.83" stroke="#262626" stroke-width="0.95" fill="none"/>
<text transform="translate(336.33,115.80) scale(0.958,1)" font-size="10.0" fill="#262626" stroke="#262626" stroke-width="0.22">9</text>
<line x1="325.5" y1="116.7" x2="342.7" y2="116.7" stroke="#2a2a2a" stroke-width="0.95"/>
<line x1="325.5" y1="116.7" x2="312.7" y2="122.5" stroke="#2a2a2a" stroke-width="0.9"/>
<path d="M334.84,119.23 L334.84,126.20 M332.89,120.93 L334.84,119.23" stroke="#262626" stroke-width="0.95" fill="none"/>
<text transform="translate(336.38,126.20) scale(0.941,1)" font-size="10.0" fill="#262626" stroke="#262626" stroke-width="0.22">8</text>
<line x1="325.5" y1="127.3" x2="343" y2="127.3" stroke="#2a2a2a" stroke-width="0.95"/>
<line x1="325.5" y1="127.3" x2="309.8" y2="145.6" stroke="#2a2a2a" stroke-width="0.9"/>
<path d="M334.72,136.23 L334.72,143.20 M333.13,137.93 L334.72,136.23" stroke="#262626" stroke-width="0.95" fill="none"/>
<text transform="translate(335.99,143.20) scale(0.795,1)" font-size="10.0" fill="#262626" stroke="#262626" stroke-width="0.22">7</text>
<line x1="327.5" y1="144.1" x2="344" y2="144.1" stroke="#2a2a2a" stroke-width="0.95"/>
<line x1="327.5" y1="144.1" x2="288.9" y2="171" stroke="#2a2a2a" stroke-width="0.9"/>
<path d="M338.72,151.53 L338.72,158.50 M337.13,153.23 L338.72,151.53" stroke="#262626" stroke-width="0.95" fill="none"/>
<text transform="translate(339.99,158.50) scale(0.784,1)" font-size="10.0" fill="#262626" stroke="#262626" stroke-width="0.22">6</text>
<line x1="329.4" y1="159.6" x2="346.7" y2="159.6" stroke="#2a2a2a" stroke-width="0.95"/>
<line x1="329.4" y1="159.6" x2="307" y2="182" stroke="#2a2a2a" stroke-width="0.9"/>
<path d="M338.72,168.63 L338.72,175.60 M337.13,170.33 L338.72,168.63" stroke="#262626" stroke-width="0.95" fill="none"/>
<text transform="translate(340.09,175.60) scale(0.763,1)" font-size="10.0" fill="#262626" stroke="#262626" stroke-width="0.22">5</text>
<line x1="330.4" y1="176.9" x2="346.7" y2="176.9" stroke="#2a2a2a" stroke-width="0.95"/>
<line x1="330.4" y1="176.9" x2="298.6" y2="199.7" stroke="#2a2a2a" stroke-width="0.9"/>
</g>
<g transform="translate(314,0)">
<path d="M262.91,338.83 L262.91,345.80 M261.24,340.53 L262.91,338.83" stroke="#262626" stroke-width="0.95" fill="none"/>
<path d="M266.15,338.83 L266.15,345.80 M264.48,340.53 L266.15,338.83" stroke="#262626" stroke-width="0.95" fill="none"/>
<line x1="253" y1="347.5" x2="269.8" y2="347.5" stroke="#2a2a2a" stroke-width="0.95"/>
<line x1="269.8" y1="347.5" x2="291.6" y2="361.2" stroke="#2a2a2a" stroke-width="0.9"/>
<path d="M261.99,360.63 L261.99,367.60 M260.26,362.33 L261.99,360.63" stroke="#262626" stroke-width="0.95" fill="none"/>
<text transform="translate(263.34,367.60) scale(0.864,1)" font-size="10.0" fill="#262626" stroke="#262626" stroke-width="0.22">2</text>
<line x1="253" y1="369.0" x2="270.8" y2="369.0" stroke="#2a2a2a" stroke-width="0.95"/>
<line x1="270.8" y1="369.0" x2="290.5" y2="380" stroke="#2a2a2a" stroke-width="0.9"/>
<path d="M259.61,377.23 L259.61,384.20 M258.11,378.93 L259.61,377.23" stroke="#262626" stroke-width="0.95" fill="none"/>
<text transform="translate(260.94,384.20) scale(0.717,1)" font-size="10.0" fill="#262626" stroke="#262626" stroke-width="0.22">3</text>
<line x1="253" y1="386.2" x2="266.6" y2="386.2" stroke="#2a2a2a" stroke-width="0.95"/>
<line x1="266.6" y1="386.2" x2="283.3" y2="403.8" stroke="#2a2a2a" stroke-width="0.9"/>
<path d="M257.79,389.23 L257.79,396.20 M256.06,390.93 L257.79,389.23" stroke="#262626" stroke-width="0.95" fill="none"/>
<text transform="translate(259.39,396.20) scale(0.781,1)" font-size="10.0" fill="#262626" stroke="#262626" stroke-width="0.22">4</text>
<line x1="250" y1="398.1" x2="264.6" y2="398.1" stroke="#2a2a2a" stroke-width="0.95"/>
<line x1="264.6" y1="398.1" x2="281.2" y2="405.9" stroke="#2a2a2a" stroke-width="0.9"/>
<text transform="translate(331.64,338.20) scale(0.705,1)" font-size="10.0" fill="#262626" stroke="#262626" stroke-width="0.22">7</text>
<line x1="325.9" y1="339.9" x2="341.5" y2="339.9" stroke="#2a2a2a" stroke-width="0.95"/>
<line x1="325.9" y1="339.9" x2="302" y2="352.9" stroke="#2a2a2a" stroke-width="0.9"/>
<text transform="translate(332.15,363.20) scale(0.810,1)" font-size="10.0" fill="#262626" stroke="#262626" stroke-width="0.22">8</text>
<line x1="325" y1="364.7" x2="341.7" y2="364.7" stroke="#2a2a2a" stroke-width="0.95"/>
<line x1="325" y1="364.7" x2="310" y2="370" stroke="#2a2a2a" stroke-width="0.9"/>
<text transform="translate(346.32,373.70) scale(0.803,1)" font-size="10.0" fill="#262626" stroke="#262626" stroke-width="0.22">9</text>
<line x1="338.3" y1="375.7" x2="355.6" y2="375.7" stroke="#2a2a2a" stroke-width="0.95"/>
<line x1="338.3" y1="375.7" x2="313.5" y2="386" stroke="#2a2a2a" stroke-width="0.9"/>
<path d="M347.93,378.83 L347.93,385.80 M346.50,380.53 L347.93,378.83" stroke="#262626" stroke-width="0.95" fill="none"/>
<text transform="translate(349.21,385.80) scale(0.677,1)" font-size="10.0" fill="#262626" stroke="#262626" stroke-width="0.22">0</text>
<line x1="341.1" y1="388.0" x2="358.4" y2="388.0" stroke="#2a2a2a" stroke-width="0.95"/>
<line x1="341.1" y1="388.0" x2="322" y2="394.8" stroke="#2a2a2a" stroke-width="0.9"/>
</g>
<path d="M692.65,212.83 L692.65,219.80 M690.69,214.53 L692.65,212.83" stroke="#262626" stroke-width="0.95" fill="none"/>
<line x1="683.3" y1="221.9" x2="699.4" y2="221.9" stroke="#2a2a2a" stroke-width="0.95"/>
<line x1="683.3" y1="221.9" x2="659" y2="244.4" stroke="#2a2a2a" stroke-width="0.9"/>
<text transform="translate(720.32,246.40) scale(0.769,1)" font-size="10.0" fill="#262626" stroke="#262626" stroke-width="0.22">2</text>
<line x1="713.4" y1="247.8" x2="729.6" y2="247.8" stroke="#2a2a2a" stroke-width="0.95"/>
<line x1="713.4" y1="247.8" x2="692.8" y2="269.4" stroke="#2a2a2a" stroke-width="0.9"/>
<text transform="translate(752.74,267.00) scale(0.677,1)" font-size="10.0" fill="#262626" stroke="#262626" stroke-width="0.22">3</text>
<line x1="745" y1="268.8" x2="761" y2="268.8" stroke="#2a2a2a" stroke-width="0.95"/>
<line x1="745" y1="268.8" x2="722" y2="292.5" stroke="#2a2a2a" stroke-width="0.9"/>
<text transform="translate(584.12,184.20) scale(0.795,1)" font-size="10.0" fill="#262626" stroke="#262626" stroke-width="0.22">4</text>
<line x1="577.4" y1="186.4" x2="593" y2="186.4" stroke="#2a2a2a" stroke-width="0.95"/>
<line x1="577.4" y1="186.4" x2="560.5" y2="212" stroke="#2a2a2a" stroke-width="0.9"/>
<text transform="translate(570.66,176.80) scale(0.846,1)" font-size="10.0" fill="#262626" stroke="#262626" stroke-width="0.22">5</text>
<line x1="563.5" y1="178.3" x2="579.7" y2="178.3" stroke="#2a2a2a" stroke-width="0.95"/>
<line x1="563.5" y1="178.3" x2="541.5" y2="201.5" stroke="#2a2a2a" stroke-width="0.9"/>
<text transform="translate(553.92,171.60) scale(0.739,1)" font-size="10.0" fill="#262626" stroke="#262626" stroke-width="0.22">6</text>
<line x1="547.3" y1="173.4" x2="563" y2="173.4" stroke="#2a2a2a" stroke-width="0.95"/>
<line x1="547.3" y1="173.4" x2="527.5" y2="205" stroke="#2a2a2a" stroke-width="0.9"/>
</svg></body></html>
